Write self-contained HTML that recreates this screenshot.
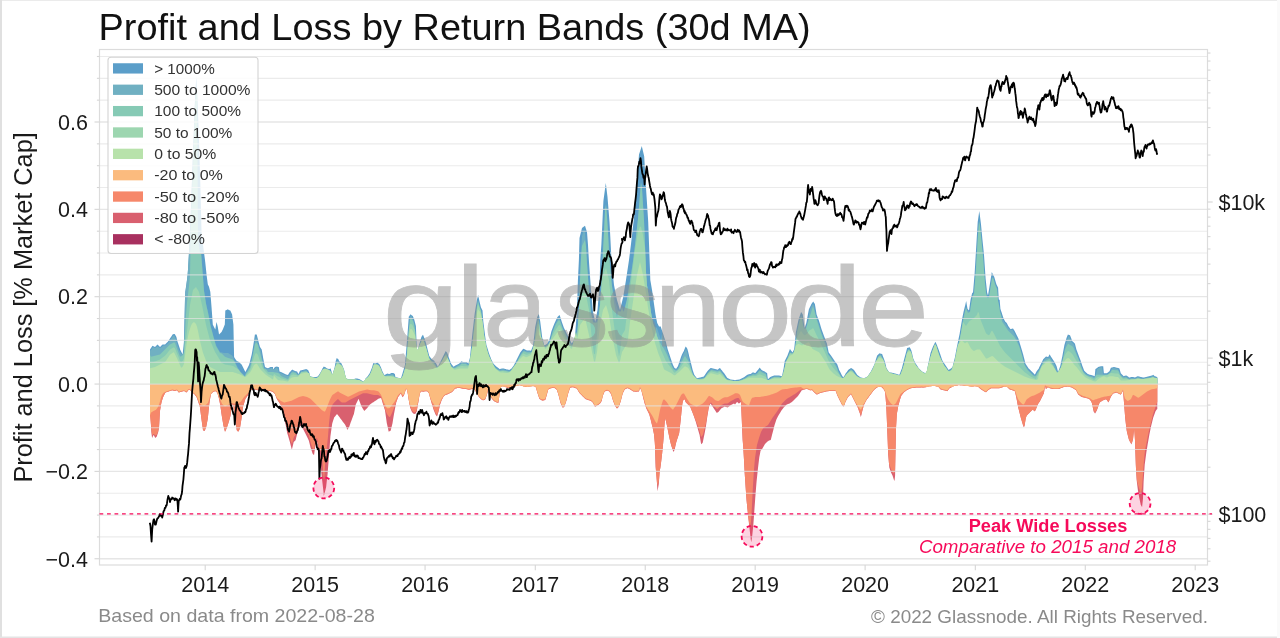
<!DOCTYPE html>
<html><head><meta charset="utf-8"><title>Profit and Loss by Return Bands (30d MA)</title>
<style>
html,body{margin:0;padding:0;background:#fff;}
svg{display:block;}
text{font-family:"Liberation Sans",Arial,sans-serif;}
.title{font-size:37.5px;fill:#111;}
.tk{font-size:21.5px;fill:#1a1a1a;}
.lg{font-size:13.8px;fill:#333;}
.wm{font-size:114px;fill:#8c8c8c;stroke:#8c8c8c;stroke-width:0.8px;}
.ann1{font-size:18px;font-weight:bold;fill:#f60a5a;}
.ann2{font-size:18px;font-style:italic;fill:#f60a5a;}
.yl{font-size:26px;fill:#1a1a1a;}
.ft{font-size:19px;fill:#8a8a8a;}
</style></head>
<body><svg width="1280" height="638" viewBox="0 0 1280 638">
<rect x="0" y="0" width="1280" height="638" fill="#ffffff"/>
<rect x="0" y="0" width="1280" height="1" fill="#ebebeb"/>
<rect x="0" y="0" width="2" height="638" fill="#e0e0e0"/>
<rect x="0" y="636.5" width="1280" height="1.5" fill="#e4e4e4"/>
<rect x="1277" y="0" width="3" height="638" fill="#fafafa"/>
<text x="98.6" y="40.3" class="title" textLength="712.1" lengthAdjust="spacingAndGlyphs">Profit and Loss by Return Bands (30d MA)</text>
<g><path d="M150 384.1L150 349.5L150 349.5L151 348L152 346.5L152.5 345.7L153 346L154 346.5L155 347L155 347L156 346L157 345L157.6 344.5L158 344.9L159 345.9L160 346.9L160.1 347L161 346.1L162 345.1L162.6 344.5L163 344.5L164 344.5L165 344.5L165.1 344.5L166 343.6L167 342.6L167.6 342L168 341.4L169 339.9L170 338.4L170.1 338.2L171 336.9L172 335.4L172.6 334.4L173 334.3L174 334.1L174.6 333.9L175 334.6L176 336.3L176.4 337L177 339.4L177.6 342L178 343.1L179 346.1L180 349.1L180.1 349.5L181 351.2L182 353.2L182.7 354.5L183 351L183.9 342L184 338.2L185 298.2L185.2 291.8L186 286.7L186.4 284.2L187 279.6L187.7 274.2L188 268.9L188.9 254.1L189 252L189.6 235L190 228.3L190.5 220L191 206.7L192 180L193 153.3L193.5 140L194 126.7L195 100L196 81.5L196.3 76L197 90L197.5 100L198 113.3L199 140L200 173.3L200.5 190L201 210.5L201.6 235L202 237.9L203 245.2L204 252.6L205 259.9L205.2 261.7L206 269.2L206.5 274.2L207 278.2L207.8 284.2L208 284.7L209 286.7L209 286.8L210 290.7L210.3 291.8L211 300.6L211.5 306.8L212 313.6L212.8 324.4L213 324.9L214 326.9L214 326.9L215 328.9L215.3 329.4L216 325.1L216.5 321.9L217 323.7L217.8 326.9L218 328.2L219 334.2L219 334.4L220 333.5L220.3 333.2L221 332.5L221.6 331.9L222 331L222.8 329.4L223 328.9L224 326.4L224.8 324.4L225 319.4L225.3 310.6L226 310.3L227 309.8L227.8 309.3L228 309.4L229 309.9L230 310.4L230.3 310.6L231 312L232 314.2L232.1 314.4L233 321.6L233.4 324.4L234 352.4L234.1 357L235 358.4L236 359.9L236.6 360.8L237 361L238 361.5L239 362L239.1 362.1L240 362.9L241 363.9L241.6 364.6L242 365.3L243 367.3L244 369.3L244.1 369.6L245 371.3L245.4 372.1L246 370.9L246.7 369.6L247 368.9L248 366.9L249 364.9L249.2 364.6L250 361.2L251 357.2L251.7 354.5L252 352.7L253 347L253.4 344.5L254 340.7L254.9 334.4L255 334.4L256 334.4L256.7 334.4L257 335.7L258 339.5L258 339.6L259 343.4L260 347L260 347L261 348.5L261.7 349.5L262 351.2L263 357L263 357.2L264 362.2L265 367.1L265 367.1L266 367.5L267 367.9L268 368.3L268 368.3L269 367.8L270 367.3L270.5 367.1L271 367.1L272 367.1L273 367.1L273 369.6L274 368.3L275 366.9L275 366.9L276 366.8L277 366.6L277 366.6L278 366.9L278.8 367.1L279 368.3L279.5 371.6L280 371.8L281 372.1L281 372.1L282 372.6L283 373.1L283 373.1L284 373.6L285 374.1L285 374.1L286 374.5L287 374.8L288 375.1L288 375.1L289 373.2L289 373.1L290 371.9L291 370.7L291.1 370.6L292 370L292.6 369.6L293 369.9L294 370.6L294.1 370.6L295 370.9L296 371.3L297 371.6L297.1 371.6L298 373.2L298.6 374.1L299 373.1L300 370.8L300.1 370.6L301 370.4L302 370.1L302.1 370.1L303 369.9L304 369.6L304.1 369.6L305 369.4L306 369.1L306.1 369.1L307 369.6L308 370.1L308.1 370.1L309 371.9L309.1 372.1L310 375.7L310.1 376.1L311 376.4L312 376.8L313 377.1L313.1 377.1L314 377.1L315 377.1L316 377.1L316.1 377.1L317 376.7L318 376.2L318.1 376.1L319 374.8L320 373.3L320.1 373.1L321 371.4L322 369.4L322.1 369.1L323 367.7L323.7 366.6L324 366.7L325 367.1L325.2 367.1L326 367.7L327 368.5L327.2 368.6L328 368.8L329 369.1L329.2 369.1L330 368.8L330.7 368.6L331 369.8L331.7 372.1L332 374.1L332.2 375.1L333 372.7L333.2 372.1L334 369.4L334.7 367.1L335 365.2L335.7 361.1L336 360.2L336.7 358.1L337 358.3L338 359L338.2 359.1L339 360.7L339.2 361.1L340 361.9L341 362.9L341.2 363.1L342 364.7L342.2 365.1L343 367.1L344 369.6L344.2 370.1L345 374.1L345.2 375.1L346 377.9L346.2 378.6L347 378.8L348 378.9L349 379.1L349.2 379.1L350 379.1L351 379.1L352 379.1L352.2 379.1L353 379L354 378.9L355 378.7L355.2 378.6L356 378.6L357 378.6L357.3 378.6L358 378.8L359 379.1L359.3 379.1L360 379.5L361 380L361.3 380.2L362 380.7L363 381.5L363.3 381.7L364 381.3L364.3 381.2L365 379.7L365.8 378.1L366 377.9L367 376.9L367.8 376.1L368 375.8L369 374.3L369.8 373.1L370 372.6L371 370.1L371.8 368.1L372 367.4L373 364.1L373.3 363.1L374 363.3L375 363.5L375.3 363.6L376 363.3L377 362.8L377.3 362.6L378 363.1L379 363.9L379.3 364.1L380 365.5L380.8 367.1L381 367.6L382 370.2L382.3 371.1L383 372.5L384 374.5L384.3 375.1L385 374.8L386 374.3L386.3 374.1L387 373.8L387.3 373.6L388 373.8L389 374L389.3 374.1L390 373.8L391 373.3L391.4 373.1L392 373.1L393 373.1L393.4 373.1L394 373.6L394.9 374.1L395 374.9L395.4 377.1L396 377.3L397 377.5L397.4 377.6L398 377.7L399 377.9L400 378L401 378.1L401 378.1L402 374.9L402.6 373.1L403 371.6L404 368.3L404.9 365.2L405 364.3L406 352.3L407 340.3L407.3 337L408 327.5L408.8 316.6L409 316.4L410 314.9L410.4 314.3L411 314.7L412 315.4L412.8 315.9L413 316.5L414 319L414.3 319.8L415 322.5L415.9 326.1L416 328.7L416.7 344.9L417 348.1L417.5 352.7L418 350L419 345L419 344.9L420 341.6L421 338.3L421.4 337L422 336.1L422.9 334.7L423 334.8L424 337.3L424.5 338.6L425 340.1L426 343.1L426.1 343.3L427 347L427.6 349.6L428 351L429 355L429.2 355.8L430 356.9L431 358.2L431.6 359L432 359.3L433 359.9L433.9 360.5L434 360.6L435 362L436 363.3L436.3 363.7L437 365.1L437.8 366.8L438 366.5L439 364.5L439.4 363.7L440 362.5L441 360.5L441.8 359L442 358.5L443 356.5L444 354.5L444.1 354.3L445 352.5L445.7 351.1L446 351.5L447 352.5L447.2 352.7L448 355L448.8 357.4L449 357.9L450 360.6L451 363.2L451.2 363.7L452 364.8L453 366.1L453.5 366.8L454 366.5L455 365.8L455.9 365.2L456 365.2L457 364.7L458 364.2L459 363.7L459 363.7L460 362.7L461 361.7L461.3 361.3L462 361.5L463 361.9L463.7 362.1L464 362.1L465 362.1L466 362.1L466.8 362.1L467 362.3L468 363.3L468.4 363.7L469 361.3L470 357.4L470 357.1L471 347.1L472 337.1L472.3 333.9L473 328L474 319.3L474.7 313.5L475 311.5L476 305.5L477 299.5L477 299.4L478 295.2L478.1 294.7L479 299.1L479.4 301L480 303.5L480.9 307.2L481 307.4L482 309.4L482.5 310.4L483 317.3L483.3 321.3L484 327L484.9 333.9L485 334.9L486 341.9L486.4 344.9L487 346.8L488 350.1L488.8 352.7L489 353.3L490 356L491 358.6L491.1 359L492 360.7L493 362.7L493.5 363.7L494 364.2L495 365.2L496 366.2L496.6 366.8L497 367.1L498 367.8L499 368.6L499.7 369.2L500 369.1L501 368.8L502 368.6L502.9 368.4L503 368.4L504 368.6L505 368.9L506 369.1L506 369.2L507 369.4L508 369.6L509 369.9L509.2 369.9L510 369.4L511 368.7L511.5 368.4L512 367.7L513 366.4L513.9 365.2L514 364.9L515 362.9L516 360.9L517 359L517 358.9L518 356.9L519 354.9L520 352.9L520.1 352.7L521 351.6L522 350.3L523 349.1L523.3 348.8L524 349.1L525 349.6L526 350.1L526.4 350.3L527 350.4L528 350.5L529 350.5L530 350.6L531 350.7L532 348.3L533 345.8L533.1 345.6L534 337.4L535 328.2L535.1 327.3L536 322.9L537 318.1L537.2 317.1L538 315.6L538.8 314L539 315L540 320.2L540.2 321.2L541 327.7L542 335.9L542.2 337.5L543 340.6L544 344.4L544.3 345.6L545 345.1L546 344.5L547 343.8L547.3 343.6L548 342.2L549 340.3L549.4 339.5L550 337L551 332.9L551.4 331.3L552 329.7L553 327.1L554 324.5L554.5 323.2L555 322.2L556 320.1L557 318.1L557.5 317.1L558 316.6L559 315.6L559.6 315L560 316.2L561 319.3L561.6 321.2L562 322.4L563 325.3L563.7 327.3L564 327.9L565 329.9L566 332L566.7 333.4L567 334L568 336L569 337.9L569.8 339.5L570 339.9L571 342L571.8 343.6L572 343.2L573 341.2L574 339.3L574.9 337.5L575 336.2L576 322.9L576.9 311L577 307.9L577.9 280.4L578 278.4L578.9 260L579 256.3L579.5 238L580 236L581 232L582 228L583 227.3L584 226.5L585 225.8L586 228.9L587 232L588 245L589 262L590 276L591 290L592 301L593 312L594 316.5L595 321.1L595.2 322L596 317.8L597 312.6L597.5 310L598 303.8L599 291.2L599.5 285L600 269.4L600.3 260L601 249.8L601.4 244L602 231.1L603 209.6L603.4 201L604 196.5L605 189L605.8 183L606 184.6L607 192.9L607.5 197L608 203.2L609 215.5L609.5 221.7L610 231.3L611 250.4L611.5 260L612 265L613 275L614 285L615 290L616 295L617 300L618 303.3L619 306.7L620 310L621 306L622 302L623 298L624 292L625 286L626 280L627 273.3L628 266.7L629 260L630 252L631 244L632 235.2L633 226.4L634 217.6L635 205.4L636 193.2L637 181L638 167.8L639 154.5L640 151.5L641 148.4L641.8 146L642 146.9L643 151.2L644 155.6L644.2 156.5L645 170.3L646 187.5L646.2 191L647 203.3L648 218.6L648.2 221.7L649 243.4L650 270.6L650.3 280L651 283.9L652 289.9L652.1 290.3L653 296.9L653.8 302.4L654 303.9L655 310.9L655.5 314.5L656 316.9L657 321.9L657.2 323.1L658 324.6L659 326.6L659 326.6L660 326.6L660.7 326.6L661 327.5L662 330.5L662.4 331.7L663 333.5L664 336.5L664.1 336.9L665 339.5L665.9 342.1L666 342.6L667 346.6L667.6 349L668 350.2L669 353.2L669.3 354.1L670 356.2L671 359.2L671 359.3L672 362.2L672.8 364.5L673 365L674 367L674.5 367.9L675 368.2L676 368.7L676.2 368.8L677 367.6L677.9 366.2L678 366L679 363L679.7 361L680 360L681 357L681.4 355.9L682 354.6L683 352.6L684 350.7L684 350.6L685 348.1L685.7 346.4L686 346.8L687 348.3L687.4 349L688 351.3L689 355.3L689.1 355.9L690 359.3L690.9 362.8L691 363.3L692 367.3L692.6 369.7L693 370.9L694 373.9L694.3 374.8L695 375.7L696 377.1L696.9 378.3L697 378.2L698 378L699 377.8L700 377.5L700.3 377.4L701 377.2L702 377L703 376.8L703.8 376.6L704 376.2L705 374.7L706 373.2L707 371.7L707.2 371.4L708 370.6L709 369.6L710 368.6L710.7 367.9L711 368L712 368.3L713 368.5L714 368.8L714.1 368.8L715 369L716 369.3L717 369.5L717.6 369.7L718 369.4L719 368.6L720 367.9L720.9 369.2L721 369.4L722 370.6L723 371.9L724 373.1L724 373.1L725 374.6L726 376.1L727 377.6L727.1 377.8L728 378.2L729 378.7L730 379.2L730.3 379.4L731 379.5L732 379.7L733 379.8L734 380L735 380.2L735 380.2L736 380L737 379.8L738 379.7L739 379.5L739.7 379.4L740 379.2L741 378.7L742 378.2L743 377.7L744 377.2L744.4 377L745 376.6L746 375.8L747 375.1L747.5 374.7L748 374.6L749 374.3L750 374.1L750.7 373.9L751 373.7L752 373L753 372.3L753 372.3L754 372.7L755 373L755.4 373.1L756 372.3L757 371.1L758 369.8L758.5 369.2L759 368.6L759.8 367.6L760 367.9L761 369.2L761.6 370L762 370.2L763 370.7L764 371.2L764.8 371.5L765 371.7L766 372.4L767 373L767.1 373.1L767.9 379.4L768 379.3L769 378.3L770 377.3L770.3 377L771 376.7L772 376.3L773 375.9L774 375.5L774.2 375.5L775 375.5L776 375.5L777 375.5L778 375.5L778.9 375.5L779 375.5L780 375.7L781 376L782 376.2L782 376.2L783 371.3L783.6 368.4L784 365.7L784.7 361L785 360.5L786 358.5L787 356.5L787.3 355.9L788 354L789 351.4L789.9 349L790 349.1L791 350.4L792 351.8L792.5 352.4L793 351.4L794 349.4L794.2 349L795 341L795.9 331.7L796 331.4L797 326.7L798 322.1L798.5 319.7L799 318.2L800 315.2L801 312.2L801.1 311.9L802 313.2L802.8 314.5L803 315.9L804 323.9L804.6 328.3L805 326.9L806 323.9L806.3 323.1L807 319.2L808 313.9L808.9 309.3L809 309L810 307L811 305L811.4 304.1L812 303.3L813 301.8L813.2 301.6L814 302.8L814.9 304.1L815 304.8L816 310.8L816.6 314.5L817 315.5L818 318.2L819 320.8L819.2 321.4L820 324L821 327.4L821.8 330L822 330.6L823 333.2L824 335.9L824.4 336.9L825 338.6L826 341.2L827 343.8L827 344L828 349L828.7 352.4L829 352.8L830 354.2L831 355.5L831.3 355.9L832 356.9L833 358.4L834 359.9L834.7 361L835 361.4L836 362.7L837 364.1L837.3 364.5L838 366.6L839 369.6L839 369.7L840 371.6L841 373.6L841.6 374.8L842 375.4L843 376.9L843.3 377.4L844 376.3L845 374.7L845.9 373.1L846 373L847 371.7L848 370.3L848.5 369.7L849 369.3L850 368.7L851 368L851.1 367.9L852 368.5L853 369.2L853.7 369.7L854 370.1L855 371.6L856 373.1L857 374.6L857.1 374.8L858 375.5L859 376.2L860 377L860.6 377.4L861 377.5L862 377.8L863 378L864 378.3L864 378.3L865 377.8L866 377.3L867 376.8L867.5 376.6L868 375.8L869 374.3L870 372.8L870.9 371.4L871 371.2L872 369.2L873 367.2L874 365.2L874.4 364.5L875 362.4L876 359.1L877 355.9L877 355.8L878 354.8L879 353.8L879.6 353.3L880 353.4L881 353.8L882 354.1L882.1 354.1L883 356.4L884 359.1L884.7 361L885 362.1L886 366.1L886.4 367.9L887 368.9L888 370.5L889 372.2L889 372.2L890 372.4L891 372.6L892 372.8L893 373L893.3 373.1L894 373.3L895 373.5L896 373.8L896.8 374L897 374L898 374.4L899 374.7L899.4 374.8L900 373.2L901 370.5L902 367.9L902 367.8L903 363.8L904 359.8L904.6 357.6L905 355.9L906 352.3L907 348.6L907.1 348.1L908 347.8L909 347.5L909.7 347.2L910 347.8L911 349.8L911.4 350.7L912 353.1L913 357.5L913.4 359L914 360.3L915 362.3L915.7 363.7L916 364.1L917 365.6L918 367.1L918.8 368.4L919 368.6L920 369.6L921 370.6L922 371.5L922 371.6L923 372.1L924 372.6L925 373.1L925.1 373.1L926 372.7L926.7 372.3L927 370.6L928 365.1L928.2 363.7L929 360.2L930 355.5L930.6 352.7L931 351.7L932 349L933 346.5L933 346.4L934 344.4L935 342.4L935.3 341.7L936 343.1L936.9 344.9L937 345.2L938 347.9L939 350.6L939.2 351.2L940 353.5L941 356.5L942 359.5L942.4 360.6L943 361.5L944 363L945 364.5L945.5 365.3L946 366L947 367.5L948 369L948.6 370L949 369.7L950 369.1L951 368.4L951 368.4L952 367.4L952.6 366.8L953 365.1L954 361.1L954.9 357.4L955 356.9L956 351.6L957 346.3L957.3 344.9L958 341.4L959 336.8L959.6 333.9L960 331.6L961 325.6L962 319.8L962 319.6L963 314.6L963.5 312L964 310.1L965 306.1L965.1 305.7L966 301.8L966.2 301L967 306L967.5 308.8L968 309.4L969 310.4L969 310.4L970 303.5L970.6 299.4L971 297.8L972 293.8L972.2 293.1L973 292.5L974 280.8L974.6 273.7L975 267L976 250.3L976.2 247L977 233.7L977.7 222L978 219.9L979 213.1L979.3 211L980 216.5L980.9 223.5L981 224.5L982 235L982.4 239.2L983 245.1L984 254.9L985 269.6L985.6 278.4L986 282.2L987 291.6L987.1 292.5L988 295.6L989 289.5L990 283.3L990.3 281.5L991 277.1L991.8 272.1L992 272.5L993 274.5L994 276.4L994.2 276.8L995 279.5L996 282.9L996.5 284.6L997 285.6L998 287.6L998.1 287.8L998.8 299.4L999 299.5L999.7 300L1000 303.9L1000.4 308.8L1001 310.7L1002 313.5L1002 313.7L1003 316.7L1003.5 318.2L1004 319.2L1005 321.2L1005.1 321.4L1006 322.3L1006.7 322.9L1007 323.6L1008 325.6L1008.2 326.1L1009 327.1L1010 328.4L1010.6 329.2L1011 329.1L1012 328.7L1012.9 328.4L1013 328.5L1014 330L1014.5 330.8L1015 331.8L1016 333.8L1016.1 333.9L1017 335.8L1018 337.8L1018.4 338.6L1019 340.6L1020 343.9L1020.8 346.5L1021 347.2L1022 350.6L1023 353.9L1023.1 354.3L1024 357.8L1025 361.8L1025.5 363.7L1026 364.5L1027 366L1028 367.5L1028.6 368.4L1029 368.8L1030 369.8L1031 370.8L1031.7 371.5L1032 371.8L1033 372.8L1034 373.8L1034.9 374.7L1035 374.4L1036 372.4L1036.5 371.5L1037 370.8L1038 369.5L1038.8 368.4L1039 367.7L1040 365.7L1041 363.7L1041.1 363.5L1042 361.7L1043 359.7L1043.2 359.2L1044 358.5L1045 357.5L1046 356.5L1046.1 356.4L1047 356.7L1048 357.1L1048.2 357.1L1049 355.5L1049.6 354.3L1050 355L1051 356.7L1051.7 357.8L1052 358.3L1053 359.8L1054 361.3L1054.5 362.1L1055 363L1056 365L1056.6 366.3L1057 367.8L1058 371.8L1058 371.9L1059 369.4L1060 366.7L1060.2 366.3L1061 362.4L1062 357.7L1062.3 356.4L1063 352.5L1064 347.2L1064.4 345.1L1065 343.1L1066 339.8L1066.5 338.1L1067 336.8L1067.9 334.6L1068 334.6L1069 334.9L1070 335.3L1070 335.3L1071 337.8L1072 340.5L1072.1 340.9L1073 341.8L1073.6 342.3L1074 342.8L1075 343.7L1075 343.9L1076 347.9L1076.4 349.4L1077 351L1078 353.7L1078.5 355L1079 356.4L1080 359L1080.6 360.6L1081 361.8L1082 364.8L1082 364.9L1083 367.5L1084 370.2L1084.1 370.5L1085 371.4L1086 372.4L1087 373.3L1087 373.4L1088 373.9L1089 374.4L1089.8 374.8L1090 374.8L1091 375.1L1092 375.3L1092.6 375.5L1093 375.6L1094 375.9L1094.7 376.2L1095 373.3L1095.4 369.1L1096 368.7L1097 367.9L1098 367.2L1098.2 367L1099 366.8L1100 366.6L1101 366.3L1101.1 366.3L1102 366.3L1103 366.3L1103.2 366.3L1103.9 373.3L1104 373.3L1105 373.3L1106 373.3L1106.7 373.3L1107 373.1L1108 372.4L1109 371.6L1109.5 371.2L1110 370L1110.9 367.7L1111 367.7L1112 367.4L1113 367.2L1113.8 367L1114 367.1L1115 367.3L1116 367.6L1116.6 367.7L1117 367.8L1118 368.1L1119 368.3L1119.4 368.4L1120 370.5L1120.8 373.3L1121 373.5L1122 374.5L1123 375.5L1123.6 376.2L1124 376.1L1125 375.8L1126 375.6L1126.4 375.5L1127 375.9L1128 376.6L1129 377.4L1129.3 377.6L1130 377.4L1131 377.1L1132 376.9L1132.1 376.9L1133 377.1L1134 377.3L1134.9 377.6L1135 377.5L1136 377L1137 376.5L1137.7 376.2L1138 376.2L1139 376.5L1140 376.7L1140.6 376.9L1141 377L1142 377.2L1143 377.5L1143.4 377.6L1144 377.4L1145 377.2L1146 376.9L1146.2 376.9L1147 376.7L1148 376.4L1149 376.2L1149 376.2L1150 375.9L1151 375.7L1151.8 375.5L1152 375.4L1153 374.9L1153.2 374.8L1154 375.5L1154.7 376.2L1155 376.3L1156 376.6L1156.8 376.9L1157.3 376.9L1157.3 384.1Z" fill="#5b9ec9"/><path d="M150 384.1L150 350.5L151 350.1L152 348.6L153 347.1L154 347.6L155 348L156 347.6L157 346.6L158 346.5L159 347.5L160 347.9L161 347.5L162 346.7L163 345.7L164 345.5L165 345.5L166 345.1L167 344.2L168 343.2L169 342L170 340.5L171 339L172 337.5L173 336L174 335.2L175 336.9L176 340L177 343.7L178 346.7L179 349.7L180 351.8L181 353.8L182 354.2L183 353.8L184 351.6L185 299.2L186 287.7L187 280.6L188 269.9L189 253L190 229.3L191 207.7L192 181L193 154.3L194 127.7L195 101L196 82.5L197 91L198 238.5L199 245.8L200 253.2L201 251.2L202 263.8L203 276.7L204 290L205 296.5L206 303L207 307.4L208 311.8L209 316.8L210 322.2L211 326.9L212 330.6L213 334.4L214 337.9L215 341.5L216 345L217 346.8L218 348.5L219 350.2L220 352L221 352.2L222 352.5L223 352.8L224 353L225 353L226 353L227 353L228 353L229 353.5L230 354.2L231 354.8L232 355.5L233 356.8L234 359.4L235 362L236 364L237 366L238 368L239 369.3L240 370.7L241 372L242 373L243 374L244 375L245 376L246 371.9L247 371.5L248 369.5L249 367.5L250 365.5L251 361.8L252 357.8L253 353.3L254 347.6L255 341.3L256 336.3L257 340.2L258 344L259 347.6L260 349.1L261 351.8L262 357.8L263 362.8L264 367.7L265 368.1L266 368.5L267 368.9L268 369.3L269 368.9L270 368.4L271 368.1L272 368.1L273 368.9L274 369.3L275 368.9L276 367.8L277 367.6L278 368.9L279 372.4L280 372.8L281 373.2L282 373.7L283 374.2L284 374.7L285 375.1L286 375.5L287 375.8L288 376.1L289 375.7L290 373.8L291 372.5L292 371.3L293 371.2L294 371.6L295 371.9L296 372.3L297 373.8L298 374.2L299 374.1L300 373.7L301 371.4L302 371.1L303 370.9L304 370.6L305 370.4L306 370.2L307 370.7L308 372.5L309 376.3L310 377L311 377.4L312 377.8L313 378.1L314 378.1L315 378.1L316 378.1L317 377.7L318 377.3L319 376.8L320 375.4L321 373.9L322 372L323 370L324 368.3L325 368.3L326 369.1L327 369.5L328 369.8L329 370.1L330 370.4L331 374.7L332 375.1L333 374.7L334 373.3L335 370L336 365.8L337 360.8L338 361.3L339 362.5L340 363.5L341 365.3L342 367.7L343 370.2L344 374.7L345 378.5L346 379.4L347 379.8L348 379.9L349 380.1L350 380.1L351 380.1L352 380.1L353 380L354 379.9L355 379.7L356 379.6L357 379.6L358 379.8L359 380.1L360 380.6L361 381.3L362 382.1L363 382.5L364 382.3L365 381.9L366 380.3L367 378.5L368 377.5L369 376.4L370 374.9L371 373.2L372 370.7L373 368L374 364.7L375 364.5L376 364.3L377 363.9L378 364.5L379 366.1L380 368.2L381 370.8L382 373.1L383 375.1L384 375.5L385 375.8L386 375.4L387 374.9L388 374.8L389 375L390 374.8L391 374.4L392 374.1L393 374.2L394 375.5L395 377.9L396 378.3L397 378.5L398 378.7L399 378.9L400 379L401 379.1L402 378.7L403 375.5L404 372.2L405 368.9L406 364.9L407 352.9L408 340.9L409 328.1L410 317L411 316L412 317.1L413 319.6L414 323.1L415 329.3L416 348.7L417 350.6L418 351L419 350.6L420 345.6L421 342.2L422 338.9L423 337.9L424 340.7L425 343.7L426 347.6L427 351.6L428 355.6L429 357.5L430 358.8L431 359.9L432 360.5L433 361.2L434 362.6L435 363.9L436 365.7L437 367.1L438 367.5L439 367.1L440 365.1L441 363.1L442 361.1L443 359.1L444 357.1L445 355.1L446 353.1L447 355.6L448 358.5L449 361.2L450 363.8L451 365.4L452 366.7L453 367.1L454 367.5L455 367.1L456 366.4L457 365.8L458 365.3L459 364.8L460 364.3L461 363.3L462 362.5L463 362.9L464 363.1L465 363.1L466 363.1L467 363.9L468 364.3L469 363.9L470 361.9L471 357.7L472 347.7L473 337.7L474 328.6L475 319.9L476 312.1L477 306.1L478 300.1L479 304.1L480 308L481 310L482 317.9L483 327.6L484 335.5L485 342.5L486 347.4L487 350.7L488 353.9L489 356.6L490 359.2L491 361.3L492 363.3L493 364.8L494 365.8L495 366.8L496 367.7L497 368.4L498 369.2L499 369.7L500 370.1L501 369.8L502 369.6L503 369.4L504 369.6L505 369.9L506 370.1L507 370.4L508 370.6L509 370.9L510 370.5L511 370L512 369.3L513 368.3L514 367L515 365.5L516 363.5L517 361.5L518 359.5L519 357.5L520 355.5L521 353.5L522 352.2L523 350.9L524 350.2L525 350.7L526 351.1L527 351.4L528 351.5L529 351.5L530 351.6L531 351.7L532 351.3L533 348.9L534 346.4L535 338L536 328.8L537 323.5L538 318.7L539 320.8L540 328.3L541 336.5L542 341.2L543 345L544 345.7L545 346.1L546 345.7L547 345.1L548 344.4L549 342.8L550 340.9L551 337.6L552 333.5L553 330.3L554 327.7L555 325.1L556 322.8L557 320.8L558 318.7L559 317.2L560 319.9L561 323L562 325.9L563 328.5L564 330.5L565 332.6L566 334.6L567 336.6L568 338.5L569 340.5L570 342.6L571 343.8L572 344.2L573 343.8L574 343.8L575 341.8L576 339.9L577 336.8L578 323.5L579 308.5L580 279L581 256.9L582 236.6L583 232.6L584 229.5L585 232.6L586 245.6L587 262.6L588 276.6L589 290.6L590 301.6L591 312.6L592 317.1L593 321.7L594 321.7L595 322.1L596 321.7L597 321.7L598 318.4L599 313.2L600 304.4L601 291.9L602 270L603 250.4L604 231.7L605 210.2L606 203.8L607 216.1L608 231.9L609 251L610 265.6L611 275.6L612 285.6L613 290.6L614 295.6L615 300.6L616 303.9L617 307.3L618 310.6L619 310.6L620 311L621 310.6L622 306.6L623 310.6L624 310.6L625 306.6L626 302.6L627 298.6L628 292.6L629 286.6L630 280.6L631 273.9L632 267.3L633 260.6L634 252.6L635 244.6L636 235.8L637 227L638 218.2L639 206L640 193.8L641 181.6L642 188.1L643 203.9L644 219.2L645 244L646 271.2L647 284.5L648 290.5L649 297.5L650 304.5L651 311.5L652 317.5L653 322.5L654 325.2L655 327.2L656 327.2L657 328.1L658 331.1L659 334.1L660 337.1L661 340.1L662 334.1L663 337.1L664 340.1L665 343.2L666 347.2L667 350.8L668 353.8L669 356.8L670 359.8L671 362.8L672 365.6L673 367.6L674 368.8L675 369.3L676 369.7L677 369.3L678 368.2L679 366.6L680 363.6L681 360.6L682 357.6L683 355.2L684 353.2L685 351.2L686 348.9L687 351.9L688 355.9L689 359.9L690 363.9L691 367.9L692 371.5L693 374.5L694 376.3L695 377.7L696 378.9L697 379.2L698 379L699 378.8L700 378.5L701 378.2L702 378L703 377.8L704 377.4L705 376.8L706 375.3L707 373.8L708 372.3L709 371.2L710 370.2L711 369.2L712 369.3L713 369.5L714 369.8L715 370L716 370.3L717 370.5L718 370.4L719 370L720 370L721 371.2L722 372.5L723 373.7L724 375.2L725 376.7L726 378.2L727 378.8L728 379.3L729 379.8L730 380.2L731 380.5L732 380.7L733 380.8L734 381L735 381.2L736 381L737 380.8L738 380.7L739 380.5L740 380.2L741 379.8L742 379.3L743 378.8L744 378.3L745 377.8L746 377.2L747 376.4L748 375.7L749 375.3L750 375.1L751 374.7L752 374.3L753 373.6L754 373.7L755 374L756 373.6L757 372.9L758 371.7L759 370.4L760 369.8L761 370.8L762 371.3L763 371.8L764 372.3L765 373L766 373.6L767 379.9L768 380.3L769 379.9L770 378.9L771 377.9L772 377.3L773 376.9L774 376.5L775 376.5L776 376.5L777 376.5L778 376.5L779 376.5L780 376.7L781 377L782 377.2L783 376.8L784 371.9L785 366.3L786 361.1L787 359.1L788 357.1L789 354.6L790 352L791 352.4L792 352.8L793 352.4L794 352L795 350L796 341.6L797 332L798 327.3L799 322.7L800 318.8L801 315.8L802 316.5L803 324.5L804 327.5L805 327.9L806 327.5L807 324.5L808 319.8L809 314.5L810 309.6L811 307.6L812 305.6L813 303.9L814 305.4L815 311.4L816 316.1L817 318.8L818 321.4L819 324.6L820 328L821 331.2L822 333.8L823 336.5L824 339.2L825 341.8L826 344.6L827 349.6L828 353.4L829 354.8L830 356.1L831 357.5L832 359L833 360.5L834 362L835 363.3L836 364.7L837 367.2L838 370.2L839 372.2L840 374.2L841 376L842 377.5L843 377.9L844 377.5L845 376.9L846 375.3L847 373.6L848 372.3L849 370.9L850 369.9L851 369.3L852 369.8L853 370.7L854 372.2L855 373.7L856 375.2L857 376.1L858 376.8L859 377.6L860 378.1L861 378.5L862 378.8L863 379L864 379.3L865 378.9L866 378.4L867 377.9L868 377.4L869 376.4L870 374.9L871 373.4L872 371.8L873 369.8L874 367.8L875 365.8L876 363L877 359.7L878 356.4L879 355.4L880 354.4L881 354.8L882 357L883 359.7L884 362.7L885 366.7L886 369.5L887 371.1L888 372.8L889 373.2L890 373.4L891 373.6L892 373.8L893 374L894 374.3L895 374.5L896 374.8L897 375L898 375.4L899 375.7L900 375.3L901 373.8L902 371.1L903 368.4L904 364.4L905 360.4L906 356.5L907 352.9L908 349.2L909 348.5L910 350.4L911 353.7L912 358.1L913 360.9L914 362.9L915 364.7L916 366.2L917 367.7L918 369.2L919 370.2L920 371.2L921 372.2L922 372.7L923 373.2L924 373.7L925 374.1L926 373.7L927 373.3L928 371.2L929 365.7L930 360.8L931 356.1L932 352.3L933 349.6L934 347L935 345L936 345.8L937 348.5L938 351.2L939 354.1L940 357.1L941 360.1L942 362.1L943 363.6L944 365.1L945 366.6L946 368.1L947 369.6L948 370.3L949 370.7L950 370.3L951 369.7L952 369L953 368L954 365.7L955 361.7L956 357.5L957 352.2L958 346.9L959 342L960 337.4L961 332.2L962 326.2L963 320.2L964 315.2L965 310.7L966 306.7L967 310L968 311L969 311.4L970 311L971 304.1L972 298.4L973 294.4L974 293.1L975 281.4L976 267.6L977 250.9L978 234.3L979 220.5L980 225.1L981 235.6L982 245.7L983 255.5L984 270.2L985 282.8L986 292.2L987 296.2L988 296.6L989 296.2L990 290.1L991 283.9L992 277.7L993 277L994 280.1L995 283.5L996 286.2L997 288.2L998 300.1L999 304.5L1000 311.3L1001 314.3L1002 317.3L1003 319.8L1004 321.8L1005 322.9L1006 324.2L1007 326.2L1008 327.7L1009 329L1010 329.7L1011 330.1L1012 329.7L1013 330.6L1014 332.4L1015 334.4L1016 336.4L1017 338.4L1018 341.2L1019 344.5L1020 347.8L1021 351.2L1022 354.5L1023 358.4L1024 362.4L1025 365.1L1026 366.6L1027 368.1L1028 369.4L1029 370.4L1030 371.4L1031 372.4L1032 373.4L1033 374.4L1034 375L1035 375.4L1036 375L1037 373L1038 371.4L1039 370.1L1040 368.3L1041 366.3L1042 364.3L1043 362.3L1044 360.3L1045 359.1L1046 358.1L1047 357.7L1048 358.1L1049 357.7L1050 357.3L1051 358.9L1052 360.4L1053 361.9L1054 363.6L1055 365.6L1056 368.4L1057 372.4L1058 372.8L1059 372.4L1060 370L1061 367.3L1062 363L1063 358.3L1064 353.1L1065 347.8L1066 343.7L1067 340.4L1068 337.4L1069 335.9L1070 338.4L1071 341.1L1072 342.4L1073 343.4L1074 344.5L1075 348.5L1076 351.6L1077 354.3L1078 357L1079 359.6L1080 362.4L1081 365.4L1082 368.1L1083 370.8L1084 372L1085 373L1086 374L1087 374.5L1088 375L1089 375.4L1090 375.8L1091 376.1L1092 376.3L1093 376.6L1094 376.9L1095 376.5L1096 373.9L1097 369.3L1098 368.5L1099 367.8L1100 367.6L1101 367.3L1102 367.3L1103 373.9L1104 374.3L1105 374.3L1106 374.3L1107 374.1L1108 373.7L1109 373L1110 372.2L1111 370.6L1112 368.4L1113 368.2L1114 368.1L1115 368.3L1116 368.6L1117 368.8L1118 369.1L1119 371.1L1120 374.1L1121 375.1L1122 376.1L1123 376.7L1124 377.1L1125 376.8L1126 376.6L1127 377.2L1128 378L1129 378.4L1130 378.4L1131 378.1L1132 377.9L1133 378.1L1134 378.3L1135 378.5L1136 378.1L1137 377.6L1138 377.2L1139 377.5L1140 377.7L1141 378L1142 378.2L1143 378.5L1144 378.4L1145 378.2L1146 377.9L1147 377.7L1148 377.4L1149 377.2L1150 376.9L1151 376.7L1152 376.4L1153 376.1L1154 376.9L1155 377.3L1156 377.6L1157.3 377.9L1157.3 384.1Z" fill="#70b0c2"/><path d="M150 384.1L150 355.1L151 356.8L152 356.5L153 356.3L154 356L155 355.8L156 355.5L157 355.3L158 355L159 354.8L160 354.5L161 353.6L162 352.6L163 351.6L164 350.6L165 349.6L166 348.6L167 347.6L168 346.6L169 345.6L170 344.6L171 344L172 343.4L173 342.9L174 342.3L175 343L176 345.7L177 348.5L178 351.2L179 353.9L180 356.6L181 356.5L182 355.8L183 355.1L184 352.7L185 333.7L186 314.7L187 302.2L188 294.2L189 286L190 276L191 222.5L192 196.7L193 170L194 143.3L195 118.3L196 95L197 93.6L198 239.5L199 246.8L200 254.2L201 252.2L202 264.8L203 277.7L204 291L205 297.5L206 304L207 308.4L208 312.8L209 317.8L210 323.2L211 327.9L212 331.6L213 335.4L214 338.9L215 342.5L216 346L217 347.8L218 349.5L219 351.2L220 353L221 353.2L222 353.7L223 354.7L224 355.7L225 356.7L226 357.3L227 357.6L228 357.9L229 358.3L230 358.6L231 358.9L232 359.3L233 359.7L234 360.7L235 363L236 365L237 367L238 369L239 370.3L240 371.7L241 373L242 374L243 375L244 376L245 376.9L246 373.7L247 372.5L248 370.7L249 369.2L250 367.7L251 364.2L252 359.2L253 354.3L254 349.2L255 344.2L256 342.5L257 343.5L258 345L259 348.7L260 352.7L261 356.7L262 360.7L263 364.6L264 368.7L265 369.1L266 369.5L267 370.6L268 372.1L269 372.1L270 372.1L271 372.1L272 372.1L273 372.1L274 372.3L275 372.4L276 372.6L277 372.8L278 373L279 373.4L280 374.6L281 376.1L282 376.6L283 377L284 377.4L285 377.8L286 378.3L287 378.7L288 379.1L289 377.2L290 375.2L291 373.5L292 372.4L293 372.2L294 372.6L295 372.9L296 373.3L297 374.8L298 375.2L299 375.1L300 374.3L301 372.4L302 372.1L303 371.9L304 371.6L305 371.4L306 371.2L307 371.7L308 372.9L309 373.1L310 376.3L311 376.9L312 377.3L313 377.6L314 377.8L315 377.9L316 378L317 378.1L318 377.3L319 376.3L320 374.4L321 372.4L322 370.8L323 369.3L324 368.9L325 368.7L326 368.9L327 369.3L328 369.7L329 370.1L330 371L331 372L332 375L333 373.4L334 370.6L335 367.9L336 365.1L337 361.8L338 362.3L339 363.5L340 364.5L341 365.2L342 366L343 368.1L344 370.6L345 375.1L346 377.9L347 379.3L348 379.6L349 379.6L350 379.6L351 379.6L352 379.6L353 379.6L354 379.6L355 379.6L356 379.7L357 379.9L358 380L359 380.1L360 380.5L361 381L362 381.5L363 382L364 381.3L365 379.7L366 378.7L367 378L368 377.3L369 376.1L370 374.6L371 372.4L372 369.9L373 367L374 364.6L375 364.6L376 364.6L377 364.8L378 365L379 366.1L380 367.6L381 369.8L382 372.3L383 374.1L384 375.6L385 376.2L386 376.4L387 375.9L388 375.8L389 376L390 375.8L391 375.6L392 375.6L393 375.6L394 376.5L395 377.6L396 377.8L397 377.9L398 378.1L399 378.3L400 378.5L401 378.6L402 377.6L403 375.6L404 372.3L405 369.1L406 364L407 353.9L408 341.9L409 329.1L410 319.2L411 319L412 319.5L413 320.9L414 324.1L415 330.3L416 343.5L417 349.2L418 350L419 346.5L420 344.5L421 342.5L422 339.9L423 338.9L424 341.7L425 344.7L426 347.8L427 351.2L428 354.7L429 358.2L430 359.8L431 360.9L432 361.5L433 362.2L434 363.6L435 364.9L436 366.7L437 368.1L438 367.1L439 365.8L440 364.4L441 363.1L442 361.6L443 359.6L444 357.6L445 355.9L446 354.1L447 356.6L448 358.9L449 361.4L450 363.9L451 366.4L452 367.6L453 368.1L454 368.5L455 368.1L456 367.4L457 366.8L458 366.3L459 365.8L460 365.3L461 364.3L462 363.6L463 363.9L464 364.1L465 364.1L466 364.1L467 364.9L468 365.3L469 364.9L470 359.8L471 354.2L472 347.5L473 338.7L474 329.6L475 320.9L476 313.1L477 307.1L478 301.1L479 305.1L480 309L481 311L482 318.9L483 325.8L484 334.8L485 340.4L486 345.7L487 349.9L488 353.2L489 356.3L490 358.3L491 360.3L492 362.3L493 364.3L494 366.3L495 367.8L496 368.7L497 369.4L498 370.2L499 370.7L500 371.1L501 370.8L502 370.6L503 370.4L504 370.6L505 370.9L506 371.1L507 371.4L508 371.6L509 371.9L510 371.5L511 371L512 369.6L513 368.1L514 366.6L515 365.3L516 363.9L517 362.5L518 360.5L519 358.5L520 356.5L521 354.5L522 353.2L523 351.9L524 351.3L525 351.8L526 352.3L527 352.4L528 352.5L529 352.5L530 352.6L531 352.7L532 351.7L533 348.4L534 345.1L535 339L536 329.8L537 324.5L538 319.7L539 321.8L540 329.3L541 336.8L542 339.9L543 342.9L544 345.8L545 347.1L546 346.7L547 346.1L548 345.4L549 343.8L550 341.9L551 338.6L552 334.5L553 331.3L554 328.7L555 326.2L556 324.3L557 322.5L558 321.1L559 320L560 320.9L561 324L562 326.9L563 329.5L564 331.5L565 333.6L566 335.6L567 337.6L568 339.5L569 341.5L570 343.6L571 344.8L572 345.2L573 344.3L574 339.8L575 336.2L576 332.1L577 337.8L578 324.5L579 309.5L580 280L581 257.9L582 246L583 244L584 242L585 240L586 246.6L587 263.6L588 277.6L589 291.6L590 302.6L591 313.6L592 318.1L593 322.7L594 322.7L595 323.1L596 322.7L597 322.7L598 319.4L599 314.2L600 305.4L601 292.9L602 271L603 251.4L604 232.7L605 211.2L606 204.8L607 217.1L608 232.9L609 252L610 266.6L611 276.6L612 286.6L613 294.5L614 303L615 308L616 313L617 317.3L618 311.6L619 311.6L620 312L621 311.6L622 307.6L623 311.6L624 311.6L625 307.6L626 303.6L627 299.6L628 293.6L629 287.6L630 281.6L631 274.9L632 268.3L633 261.6L634 253.6L635 245.6L636 236.8L637 228L638 219.2L639 207L640 194.8L641 182.6L642 189.1L643 204.9L644 220.2L645 245L646 272.2L647 285.5L648 291.5L649 298.5L650 305.5L651 312.5L652 318.5L653 323.5L654 326.2L655 328.2L656 331.9L657 335.9L658 338.4L659 340.4L660 342.4L661 344.3L662 345.8L663 347.3L664 348.8L665 350.7L666 352.7L667 354.7L668 356.9L669 359.4L670 361.9L671 364.4L672 366.6L673 368.6L674 369.8L675 370.3L676 370.7L677 370.3L678 369.2L679 367.6L680 365.5L681 363.5L682 361.5L683 359.5L684 357.5L685 356.1L686 357.6L687 359.1L688 360.6L689 362.8L690 365.3L691 368.9L692 372.5L693 375.2L694 376.2L695 377.2L696 378.2L697 379.2L698 379.3L699 379.5L700 379.5L701 379.2L702 379L703 378.8L704 378.4L705 377.8L706 376.3L707 374.8L708 373.3L709 372.2L710 371.2L711 370.2L712 370.3L713 370.5L714 370.8L715 371L716 371.3L717 371.5L718 371.4L719 371L720 371L721 372.2L722 373.5L723 374.7L724 376.2L725 377.7L726 379.2L727 379.8L728 380.3L729 380.4L730 380.5L731 380.7L732 380.8L733 380.9L734 381L735 381L736 381L737 381L738 381L739 381L740 380.8L741 380.5L742 380.2L743 379.8L744 379.3L745 378.8L746 378.2L747 377.4L748 376.7L749 376.3L750 376.1L751 375.7L752 375.3L753 374.6L754 374.7L755 375L756 374.6L757 373.9L758 372.7L759 371.4L760 370.9L761 371.8L762 372.5L763 373L764 373.4L765 374L766 374.6L767 379.8L768 380.1L769 379.9L770 379.6L771 378.9L772 378.3L773 377.9L774 377.5L775 377.5L776 377.5L777 377.5L778 377.5L779 377.5L780 377.7L781 377.9L782 376.5L783 374.7L784 370.7L785 366.8L786 362.1L787 360.1L788 358.1L789 355.6L790 353L791 353.4L792 353.8L793 353.4L794 352L795 348.6L796 342.6L797 333L798 328.3L799 323.9L800 320.3L801 316.8L802 319.2L803 325.5L804 328.5L805 328.9L806 328.5L807 325.5L808 322.1L809 319L810 315.8L811 312.7L812 309.5L813 306.4L814 309.2L815 313.2L816 317.2L817 320.8L818 323.8L819 326.8L820 329.8L821 332.8L822 335.8L823 338.6L824 341.4L825 344.2L826 347L827 350.6L828 354.4L829 355.8L830 357.1L831 358.5L832 360L833 361.6L834 363.3L835 364.9L836 366.6L837 368.3L838 371.2L839 373.2L840 375.2L841 377L842 377.9L843 378.2L844 377.5L845 376.2L846 375L847 373.8L848 373.1L849 371.9L850 370.9L851 370.3L852 370.8L853 371.7L854 373.2L855 374.4L856 375.4L857 376.4L858 377L859 377.5L860 378L861 378.3L862 378.3L863 378.3L864 378.3L865 378.3L866 378L867 377L868 376L869 375L870 373.6L871 372.1L872 370.6L873 368.8L874 366.3L875 363.8L876 361.3L877 360.1L878 357.4L879 356.4L880 355.4L881 355.8L882 358L883 359.3L884 362.3L885 365.3L886 368.3L887 370.2L888 371.2L889 372.2L890 373.1L891 373.4L892 373.6L893 373.9L894 374.1L895 374.4L896 374.6L897 374.9L898 375.1L899 375.4L900 375.6L901 373.6L902 370.9L903 368.1L904 365L905 361L906 357L907 353L908 350.2L909 349.5L910 351L911 352.2L912 355.7L913 359.3L914 361.9L915 363.9L916 365.6L917 366.8L918 367.9L919 369.1L920 370.3L921 371.2L922 371.8L923 372.5L924 373.2L925 373.8L926 372.7L927 370.6L928 366L929 362.6L930 359.1L931 355.6L932 352.6L933 349.8L934 347L935 344.2L936 345.5L937 348.7L938 351.9L939 355.1L940 357.4L941 359.4L942 361.4L943 363.4L944 365.4L945 366.7L946 368L947 369.4L948 370.7L949 371.4L950 370.9L951 370.4L952 369.3L953 366.3L954 363.3L955 360.1L956 355.1L957 350.1L958 345.1L959 343L960 338.4L961 333.2L962 327.2L963 321.2L964 316.2L965 311.7L966 307.7L967 311L968 313L969 312.4L970 312L971 305.1L972 299.4L973 295.4L974 294.1L975 282.4L976 268.6L977 251.9L978 235.3L979 221.5L980 226.1L981 236.6L982 246.7L983 256.5L984 271.2L985 283.8L986 293.2L987 297.2L988 298L989 297.2L990 291.1L991 284.9L992 278.7L993 278L994 281.1L995 284.5L996 287.2L997 289.2L998 301.1L999 305.5L1000 312.3L1001 315.3L1002 321.4L1003 322.9L1004 324.4L1005 325.9L1006 327.4L1007 328.9L1008 330.4L1009 331.5L1010 332.5L1011 333.5L1012 334.5L1013 335.5L1014 336.5L1015 338.1L1016 340.1L1017 342.1L1018 344.1L1019 346.1L1020 348.8L1021 352.2L1022 355.5L1023 359.4L1024 363.4L1025 366.1L1026 367.6L1027 369.1L1028 370.4L1029 371.4L1030 372.4L1031 373.4L1032 374.4L1033 375.4L1034 376L1035 376.4L1036 376L1037 374L1038 372.4L1039 371.1L1040 369.3L1041 367.3L1042 365.3L1043 363.3L1044 361.6L1045 361.1L1046 360.5L1047 360L1048 359.4L1049 358.9L1050 359.3L1051 361.2L1052 363.2L1053 365.1L1054 367L1055 368.9L1056 370.8L1057 372.8L1058 372.3L1059 370.8L1060 369.3L1061 367.4L1062 364L1063 359.3L1064 354.1L1065 349.6L1066 347.6L1067 345.6L1068 343.8L1069 344.3L1070 344.9L1071 345.5L1072 346.1L1073 346.9L1074 349.1L1075 351.4L1076 353.6L1077 355.9L1078 358.1L1079 360.6L1080 363.4L1081 366.4L1082 369.1L1083 371.8L1084 373L1085 374L1086 375L1087 375.5L1088 376L1089 376.4L1090 376.8L1091 377.1L1092 377.3L1093 377.8L1094 378.5L1095 377.5L1096 374.9L1097 374.8L1098 374.8L1099 374.8L1100 374.8L1101 374.8L1102 374.8L1103 374.9L1104 375.3L1105 375.3L1106 375.3L1107 375.1L1108 374.7L1109 374L1110 373.2L1111 371.6L1112 369.9L1113 370L1114 370.1L1115 370.2L1116 370.2L1117 370.3L1118 370.4L1119 372.1L1120 375.1L1121 376.1L1122 377.1L1123 377.7L1124 378.1L1125 377.8L1126 377.6L1127 378.2L1128 379L1129 379.4L1130 379.4L1131 379.1L1132 378.9L1133 379.1L1134 379.3L1135 379.3L1136 379.1L1137 378.6L1138 378.2L1139 378.5L1140 378.7L1141 379L1142 379L1143 379L1144 378.9L1145 378.8L1146 378.7L1147 378.5L1148 378.4L1149 378.2L1150 377.9L1151 377.7L1152 377.4L1153 377.1L1154 377.7L1155 377.9L1156 378.1L1157.3 378.3L1157.3 384.1Z" fill="#86cab5"/><path d="M150 384.1L150 361.7L151 362.4L152 362.2L153 361.9L154 361.7L155 361.4L156 361.1L157 360.7L158 360.3L159 359.9L160 359.6L161 358.8L162 358.1L163 357.3L164 356.6L165 355.8L166 354.6L167 353.4L168 352.1L169 350.9L170 349.6L171 349L172 348.3L173 347.7L174 347.3L175 348.6L176 351L177 353.4L178 355.8L179 358.3L180 360.9L181 361.9L182 361.6L183 360.5L184 358.3L185 344.8L186 340L187 331.2L188 322.5L189 313.8L190 305L191 300L192 295L193 290L194 289L195 288L196 287L197 288.7L198 290.3L199 292L200 296.3L201 300.7L202 305L203 310L204 315L205 320L206 325L207 328.8L208 332.5L209 336.2L210 340L211 342.4L212 344.8L213 347.2L214 349.6L215 352L216 353.6L217 355.2L218 356.8L219 358.4L220 360L221 362.4L222 362.9L223 363.4L224 363.9L225 364.4L226 364.7L227 364.8L228 365L229 365.2L230 365.3L231 365.5L232 365.7L233 365.9L234 366.6L235 367.2L236 367.9L237 368.6L238 369.2L239 370.3L240 371.7L241 373L242 374L243 375L244 376L245 376.9L246 375.1L247 373.9L248 372.6L249 371.4L250 370.1L251 367.6L252 364.1L253 360.6L254 357.1L255 354.2L256 353.1L257 353.7L258 355.1L259 357.9L260 360.7L261 363.4L262 365.9L263 368.4L264 369.6L265 370.9L266 372L267 373.1L268 374.2L269 374.5L270 374.9L271 375.2L272 375.5L273 375.9L274 374L275 374.6L276 375.3L277 375.9L278 376.5L279 376.7L280 377.5L281 378.3L282 378.6L283 378.8L284 379.1L285 379.4L286 379.8L287 380.1L288 380.4L289 378.8L290 377.1L291 375.6L292 375L293 374.4L294 374.6L295 374.9L296 375.1L297 375.4L298 375.6L299 375.1L300 374.3L301 372.4L302 372.2L303 372L304 371.9L305 371.8L306 371.7L307 371.9L308 372.9L309 373.1L310 376.3L311 376.9L312 377.3L313 377.6L314 377.8L315 377.9L316 378L317 378.1L318 377.3L319 376.3L320 374.4L321 372.4L322 370.8L323 369.3L324 368.9L325 368.7L326 368.9L327 369.3L328 369.7L329 370.1L330 371L331 372L332 375L333 373.4L334 370.6L335 367.9L336 365.1L337 362.9L338 362.9L339 363.5L340 364.5L341 365.2L342 366L343 368.1L344 370.6L345 375.1L346 377.9L347 379.3L348 379.6L349 379.6L350 379.6L351 379.6L352 379.6L353 379.6L354 379.6L355 379.6L356 379.7L357 379.9L358 380L359 380.1L360 380.5L361 381L362 381.5L363 382L364 381.3L365 379.7L366 378.7L367 378L368 377.3L369 376.1L370 374.6L371 372.4L372 369.9L373 367L374 364.6L375 364.6L376 364.6L377 364.8L378 365L379 366.1L380 367.6L381 369.8L382 372.3L383 374.1L384 375.6L385 376.2L386 376.4L387 376.1L388 376.1L389 376.1L390 376.1L391 376.1L392 376.2L393 376.3L394 376.6L395 377.6L396 377.8L397 377.9L398 378.1L399 378.3L400 378.5L401 378.6L402 377.6L403 375.6L404 372.3L405 369.1L406 364L407 353.9L408 341.9L409 329.1L410 324.2L411 324.1L412 324.4L413 326.1L414 328.2L415 330.8L416 343.5L417 349.2L418 350L419 346.5L420 344.5L421 342.5L422 339.9L423 338.9L424 341.7L425 344.7L426 347.8L427 351.2L428 354.7L429 358.2L430 359.8L431 360.9L432 361.8L433 362.8L434 363.7L435 364.9L436 366.7L437 368.1L438 367.1L439 365.8L440 364.4L441 363.1L442 361.6L443 359.6L444 357.6L445 355.9L446 355L447 356.6L448 358.9L449 361.4L450 363.9L451 366.4L452 367.6L453 368.1L454 368.5L455 368.4L456 368L457 367.7L458 367.3L459 367L460 366.5L461 366L462 366L463 366.1L464 366.2L465 366.2L466 366.2L467 366.2L468 366.6L469 364.9L470 359.8L471 354.2L472 347.5L473 338.7L474 329.6L475 320.9L476 313.9L477 308.3L478 304.2L479 306.5L480 309L481 312.5L482 318.9L483 325.8L484 334.8L485 340.4L486 345.7L487 349.9L488 353.2L489 356.3L490 358.3L491 360.3L492 362.3L493 364.3L494 366.3L495 367.8L496 368.7L497 369.4L498 370.2L499 370.7L500 371.2L501 371.2L502 371.1L503 371.1L504 371.3L505 371.4L506 371.6L507 371.7L508 371.7L509 371.9L510 371.5L511 371L512 369.6L513 368.1L514 366.6L515 365.3L516 363.9L517 362.5L518 360.5L519 358.5L520 356.9L521 355.8L522 354.7L523 353.6L524 353.7L525 354.2L526 354.7L527 354.7L528 354.4L529 354.1L530 353.8L531 353.5L532 351.7L533 348.4L534 345.1L535 339L536 332.3L537 327.6L538 323.8L539 324.8L540 329.3L541 336.8L542 339.9L543 342.9L544 345.8L545 347.5L546 347.2L547 346.1L548 345.4L549 343.8L550 341.9L551 338.6L552 336.2L553 334.4L554 332.5L555 330.8L556 329.2L557 327.7L558 326.3L559 325L560 325.2L561 327.6L562 330L563 332.3L564 334.5L565 336.5L566 338.4L567 340L568 341.6L569 343.1L570 344.7L571 346.3L572 346.8L573 344.3L574 339.8L575 336.2L576 332.1L577 337.8L578 324.5L579 309.5L580 300L581 298L582 296L583 294L584 292L585 290L586 295L587 300L588 305L589 310L590 320L591 330L592 340L593 346.9L594 353.8L595 354.2L596 344.6L597 335L598 321.7L599 314.2L600 305.4L601 292.9L602 281.7L603 275L604 272.7L605 270.3L606 268L607 272L608 276L609 280L610 290L611 300L612 310L613 317.5L614 325L615 332.5L616 340L617 345.5L618 350.9L619 356.4L620 352L621 343.5L622 335L623 333.3L624 331.7L625 330L626 321.7L627 313.3L628 305L629 297.3L630 289.7L631 282L632 274L633 266L634 258L635 250L636 244L637 238L638 232L639 229.2L640 226.4L641 227L642 231L643 235L644 241.7L645 248.3L646 272.2L647 285.5L648 291.5L649 298.5L650 305.5L651 312.5L652 318.5L653 323.5L654 326.2L655 328.2L656 331.9L657 335.9L658 338.4L659 342L660 346L661 350L662 352.3L663 354.5L664 356.8L665 359.1L666 361.2L667 362.6L668 363.9L669 365.2L670 366.6L671 367.9L672 369.4L673 370.9L674 372.4L675 372.7L676 371.8L677 371L678 370.2L679 369.3L680 368.3L681 366.8L682 365.3L683 363.8L684 362.3L685 361.2L686 362.2L687 363.2L688 364.2L689 365.9L690 367.9L691 369.9L692 372.5L693 375.2L694 376.2L695 377.2L696 378.2L697 379.2L698 379.3L699 379.5L700 379.5L701 379.2L702 379L703 378.8L704 378.4L705 377.8L706 376.3L707 374.8L708 373.5L709 372.7L710 371.9L711 371.4L712 371.6L713 371.9L714 372.1L715 372.4L716 372.6L717 372.9L718 372.8L719 372.3L720 371.9L721 373L722 374L723 375.1L724 376.2L725 377.7L726 379.2L727 379.8L728 380.3L729 380.4L730 380.5L731 380.7L732 380.8L733 380.9L734 381L735 381L736 381L737 381L738 381L739 381L740 380.8L741 380.5L742 380.2L743 379.8L744 379.3L745 378.8L746 378.2L747 377.4L748 376.9L749 376.6L750 376.5L751 376.4L752 376.1L753 375.9L754 376L755 376.1L756 375.9L757 375.5L758 375L759 374.6L760 374.4L761 374.8L762 375.2L763 375.6L764 376.1L765 376.5L766 377L767 379.8L768 380.1L769 379.9L770 379.6L771 378.9L772 378.3L773 377.9L774 377.6L775 377.5L776 377.5L777 377.5L778 377.5L779 377.5L780 377.7L781 377.9L782 376.5L783 374.7L784 370.7L785 366.8L786 362.1L787 360.1L788 358.1L789 355.6L790 353.5L791 353.6L792 353.8L793 353.4L794 352L795 348.6L796 342.6L797 338L798 335.9L799 334L800 332.4L801 330.8L802 332.3L803 333.8L804 334.7L805 335.5L806 334.2L807 333.9L808 332.3L809 330.7L810 330.1L811 329.5L812 328.9L813 327.9L814 329.5L815 331.7L816 334L817 336.1L818 337.8L819 339.6L820 341.7L821 343.9L822 346.2L823 348.3L824 350.5L825 352.6L826 354.8L827 357L828 359.3L829 361.5L830 363.4L831 364.7L832 366L833 367.4L834 368.6L835 369.8L836 371L837 372.1L838 373.2L839 374.3L840 375.4L841 377L842 377.9L843 378.2L844 377.5L845 376.2L846 375L847 373.8L848 373.1L849 371.9L850 370.9L851 370.4L852 371L853 371.7L854 373.2L855 374.4L856 375.4L857 376.4L858 377L859 377.5L860 378L861 378.3L862 378.3L863 378.3L864 378.3L865 378.3L866 378L867 377L868 376L869 375L870 373.6L871 372.1L872 370.6L873 368.8L874 366.3L875 363.8L876 361.3L877 360.1L878 357.6L879 356.6L880 356.3L881 356.7L882 358L883 359.3L884 362.3L885 365.3L886 368.3L887 370.2L888 371.2L889 372.2L890 373.1L891 373.4L892 373.6L893 373.9L894 374.1L895 374.4L896 374.6L897 374.9L898 375.1L899 375.4L900 375.6L901 373.6L902 370.9L903 368.1L904 365L905 361L906 357L907 353L908 350.5L909 350.1L910 351L911 352.2L912 355.7L913 359.3L914 361.9L915 363.9L916 365.6L917 366.8L918 367.9L919 369.1L920 370.3L921 371.2L922 371.8L923 372.5L924 373.2L925 373.8L926 372.7L927 370.6L928 366L929 362.6L930 359.1L931 355.6L932 352.6L933 349.8L934 347L935 344.2L936 345.5L937 348.7L938 351.9L939 355.1L940 357.4L941 359.4L942 361.4L943 363.4L944 365.4L945 366.7L946 368L947 369.4L948 370.7L949 371.4L950 370.9L951 370.4L952 369.3L953 366.3L954 363.3L955 360.1L956 355.1L957 350.1L958 345.1L959 343L960 338.4L961 333.2L962 327.2L963 321.7L964 323.2L965 324.7L966 325.9L967 324.4L968 322.9L969 321.4L970 320.7L971 320L972 319.4L973 318.7L974 318L975 317L976 316L977 314.7L978 311.7L979 313.2L980 318.2L981 320.7L982 323.2L983 325.7L984 328.2L985 330.7L986 333.2L987 334.3L988 334.8L989 335.3L990 334.1L991 331.8L992 330.4L993 332.1L994 333.7L995 335.7L996 337.7L997 339.7L998 341.7L999 343.7L1000 345.7L1001 347.3L1002 348.6L1003 349.9L1004 351.3L1005 352.6L1006 353.6L1007 354.6L1008 355.6L1009 356.6L1010 357.6L1011 358.6L1012 359.6L1013 360.6L1014 361.6L1015 362.6L1016 363.6L1017 364.6L1018 365.6L1019 366.6L1020 367.6L1021 368.6L1022 369.6L1023 370.6L1024 371.6L1025 372.4L1026 373.1L1027 373.9L1028 374.6L1029 375.4L1030 376.1L1031 376.7L1032 377.2L1033 377.7L1034 378.2L1035 378.7L1036 379.2L1037 375.9L1038 375.2L1039 371.9L1040 369.7L1041 367.4L1042 365.3L1043 363.9L1044 363.1L1045 362.4L1046 361.7L1047 361.4L1048 361.1L1049 360.8L1050 361.3L1051 362.7L1052 364.2L1053 365.6L1054 367.4L1055 369.2L1056 371L1057 372.8L1058 372.3L1059 370.8L1060 369.3L1061 367.4L1062 364L1063 359.3L1064 357L1065 355L1066 353.3L1067 352.1L1068 351L1069 351.3L1070 352.1L1071 352.8L1072 353.8L1073 354.9L1074 356.8L1075 358.5L1076 360.1L1077 361.8L1078 363.5L1079 365.3L1080 367.1L1081 368.9L1082 370.6L1083 372.2L1084 373.8L1085 374.8L1086 375.5L1087 376.1L1088 376.7L1089 377.2L1090 377.8L1091 378.3L1092 378.9L1093 379.4L1094 379.9L1095 379.5L1096 378L1097 377.5L1098 377L1099 376.7L1100 376.4L1101 376.2L1102 375.9L1103 375.7L1104 375.4L1105 375.3L1106 375.3L1107 375.3L1108 374.7L1109 374L1110 373.3L1111 373L1112 373L1113 373.2L1114 373.3L1115 373.5L1116 373.6L1117 373.6L1118 373.6L1119 374.3L1120 375.6L1121 377.1L1122 378.1L1123 379.1L1124 378.9L1125 378.8L1126 378.7L1127 378.8L1128 379L1129 379.4L1130 379.4L1131 379.1L1132 378.9L1133 379.1L1134 379.3L1135 379.3L1136 379.1L1137 378.6L1138 378.2L1139 378.5L1140 378.7L1141 379L1142 379L1143 379L1144 378.9L1145 378.8L1146 378.7L1147 378.5L1148 378.4L1149 378.2L1150 377.9L1151 377.7L1152 377.4L1153 377.1L1154 377.7L1155 377.9L1156 378.1L1157.3 378.3L1157.3 384.1Z" fill="#9dd6b0"/><path d="M150 384.1L150 368.3L151 368.1L152 367.8L153 367.6L154 367.3L155 367.1L156 366.6L157 366.1L158 365.6L159 365.1L160 364.6L161 364.1L162 363.6L163 363.1L164 362.6L165 362.1L166 360.7L167 359.2L168 357.7L169 356.2L170 354.7L171 353.9L172 353.3L173 352.6L174 352.3L175 354.3L176 356.3L177 358.3L178 360.4L179 362.7L180 365.1L181 367.4L182 367.4L183 365.9L184 363.8L185 355.8L186 347.8L187 341.6L188 336.6L189 331.7L190 328.7L191 325.7L192 323.8L193 322.8L194 321.9L195 322.9L196 323.9L197 326.7L198 331L199 335.9L200 340.9L201 345.1L202 349.1L203 352.7L204 355.4L205 358.1L206 360.7L207 362.7L208 364.1L209 365.4L210 366.7L211 367.4L212 367.9L213 368.4L214 368.9L215 369.4L216 369.9L217 370.4L218 370.9L219 371.4L220 371.9L221 372.1L222 372.1L223 372.1L224 372.1L225 372.1L226 372.1L227 372.1L228 372.1L229 372.1L230 372.1L231 372.1L232 372.1L233 372.1L234 372.5L235 372.8L236 373.1L237 373.5L238 373.8L239 374.1L240 374.5L241 374.9L242 375.4L243 375.9L244 376.4L245 376.9L246 376.5L247 375.5L248 374.5L249 373.5L250 372.5L251 370.9L252 368.9L253 366.9L254 364.9L255 364.2L256 363.7L257 363.8L258 365.5L259 367.1L260 368.8L261 370.1L262 371.1L263 372.1L264 373.1L265 374.1L266 375L267 375.6L268 376.3L269 377L270 377.6L271 378.3L272 379L273 379.6L274 375.7L275 376.8L276 377.9L277 379L278 380.1L279 380.2L280 380.3L281 380.4L282 380.5L283 380.6L284 380.8L285 381L286 381.2L287 381.4L288 381.6L289 380.3L290 378.9L291 378L292 377.6L293 377.2L294 377.1L295 377.1L296 377.1L297 377.1L298 377.1L299 375.8L300 374.3L301 373.8L302 373.5L303 373.2L304 373L305 372.9L306 372.8L307 372.6L308 372.9L309 373.1L310 376.3L311 376.9L312 377.3L313 377.6L314 377.8L315 377.9L316 378L317 378.1L318 377.3L319 376.3L320 374.4L321 372.4L322 370.8L323 369.3L324 368.9L325 368.7L326 368.9L327 369.3L328 369.7L329 370.1L330 371L331 372L332 375L333 373.4L334 370.6L335 367.9L336 365.1L337 364.4L338 364.2L339 364.3L340 364.6L341 365.2L342 366L343 368.1L344 370.6L345 375.1L346 377.9L347 379.3L348 379.6L349 379.6L350 379.6L351 379.6L352 379.6L353 379.6L354 379.6L355 379.6L356 379.7L357 379.9L358 380L359 380.1L360 380.5L361 381L362 381.5L363 382L364 381.3L365 379.7L366 378.7L367 378L368 377.3L369 376.1L370 374.6L371 372.4L372 369.9L373 367L374 364.6L375 364.6L376 364.6L377 364.8L378 365L379 366.1L380 367.6L381 369.8L382 372.3L383 374.1L384 375.6L385 376.2L386 376.4L387 376.6L388 376.6L389 376.6L390 376.6L391 376.6L392 376.8L393 377.1L394 377.3L395 377.6L396 377.8L397 377.9L398 378.1L399 378.3L400 378.5L401 378.6L402 377.6L403 375.6L404 372.3L405 369.1L406 364L407 354.7L408 345.4L409 335.4L410 329.2L411 329.2L412 329.2L413 331.2L414 333.2L415 335.2L416 343.5L417 349.2L418 350L419 346.5L420 344.5L421 342.5L422 341.1L423 340.3L424 342.8L425 345.3L426 347.8L427 351.2L428 354.7L429 358.2L430 360.1L431 361.6L432 363.1L433 364.3L434 365.3L435 366.3L436 367.3L437 368.3L438 367.1L439 365.8L440 364.4L441 363.1L442 361.6L443 359.6L444 357.6L445 355.9L446 356.9L447 357.9L448 358.9L449 361.4L450 363.9L451 366.4L452 367.6L453 368.6L454 369.6L455 369.8L456 369.5L457 369.3L458 369L459 368.8L460 368.5L461 368.4L462 368.4L463 368.4L464 368.4L465 368.4L466 368.4L467 368.4L468 368.4L469 365.2L470 359.8L471 354.2L472 347.5L473 340.8L474 333L475 325L476 318.4L477 313.1L478 309.1L479 310.4L480 311.7L481 315.3L482 319.3L483 325.8L484 334.8L485 340.4L486 345.7L487 349.9L488 353.2L489 356.3L490 358.3L491 360.3L492 362.3L493 364.3L494 366.3L495 368.3L496 369.2L497 370L498 370.8L499 371.7L500 372.3L501 372.4L502 372.5L503 372.6L504 372.7L505 372.8L506 372.9L507 373L508 372.9L509 372.4L510 371.9L511 371.1L512 369.6L513 368.1L514 366.6L515 365.3L516 363.9L517 362.6L518 361.3L519 360.1L520 359.1L521 358.1L522 357.1L523 356.1L524 356.2L525 356.7L526 357.2L527 357.1L528 356.6L529 356L530 355.5L531 355L532 351.7L533 348.4L534 345.1L535 341.8L536 337.4L537 332.8L538 328.2L539 330L540 333.4L541 336.8L542 339.9L543 342.9L544 345.8L545 348.8L546 348.7L547 347.2L548 345.7L549 344.2L550 342.7L551 341.2L552 339.7L553 338.2L554 336.8L555 335.5L556 334.1L557 332.8L558 331.5L559 330.1L560 330.1L561 332.1L562 334.1L563 336.1L564 338.1L565 340.1L566 341.9L567 343.2L568 344.6L569 345.9L570 347.3L571 348.6L572 348.8L573 344.3L574 339.8L575 336.2L576 332.1L577 340L578 335L579 330L580 325L581 323.6L582 322.2L583 320.8L584 319.4L585 318L586 322.2L587 326.5L588 330.8L589 335L590 340.7L591 346.3L592 352L593 356.6L594 361.2L595 362L596 357L597 352L598 343L599 334L600 325L601 320L602 315L603 310L604 308.3L605 306.7L606 305L607 308.3L608 311.7L609 315L610 321.7L611 328.3L612 335L613 340L614 345L615 350L616 355L617 357.7L618 360.5L619 363.2L620 360.9L621 356.4L622 352L623 350.4L624 348.7L625 347.1L626 345.5L627 343.8L628 338.8L629 330.4L630 322L631 315.2L632 308.4L633 301.6L634 294.8L635 288L636 281.5L637 275L638 270.7L639 266.3L640 262L641 266.3L642 270.7L643 275L644 281L645 287L646 293.6L647 300.7L648 307.4L649 313.2L650 319.1L651 325L652 329.5L653 334L654 338.5L655 343L656 346.1L657 349.3L658 352.4L659 355.2L660 357.6L661 360L662 363.1L663 366.2L664 369.2L665 370.1L666 370.6L667 371.1L668 371.6L669 372.1L670 372.6L671 373.1L672 373.8L673 374.6L674 375.3L675 375.3L676 374.4L677 373.6L678 372.8L679 371.9L680 371L681 370L682 369L683 368L684 367L685 366.3L686 366.8L687 367.3L688 367.8L689 369.2L690 370.9L691 372.7L692 374.2L693 375.2L694 376.2L695 377.2L696 378.2L697 379.2L698 379.3L699 379.5L700 379.6L701 379.6L702 379.4L703 379.3L704 378.9L705 377.9L706 376.9L707 375.9L708 375.1L709 374.4L710 373.6L711 373.2L712 373.4L713 373.7L714 373.9L715 374.2L716 374.4L717 374.7L718 374.7L719 374.3L720 374L721 374.9L722 375.9L723 376.9L724 377.8L725 378.6L726 379.3L727 380.1L728 380.3L729 380.4L730 380.5L731 380.7L732 380.8L733 380.9L734 381L735 381L736 381L737 381L738 381L739 381L740 380.8L741 380.5L742 380.2L743 379.8L744 379.5L745 379.2L746 378.8L747 378.5L748 378.2L749 377.8L750 377.8L751 377.8L752 377.8L753 377.8L754 377.8L755 377.8L756 377.8L757 377.8L758 377.8L759 377.8L760 377.8L761 377.8L762 378L763 378.3L764 378.7L765 379.1L766 379.5L767 379.8L768 380.1L769 379.9L770 379.6L771 379.4L772 379.1L773 378.9L774 378.6L775 378.6L776 378.6L777 378.6L778 378.6L779 378.6L780 378.6L781 377.9L782 376.5L783 374.7L784 370.7L785 366.8L786 362.8L787 360.2L788 358.7L789 357.2L790 355.8L791 355.3L792 354.8L793 354.3L794 352L795 348.6L796 345.5L797 344.8L798 344.1L799 344L800 344.5L801 345L802 345.5L803 345L804 344.5L805 344L806 343.5L807 343L808 342.5L809 342.3L810 344.3L811 346.3L812 348.3L813 349.3L814 349.8L815 350.3L816 350.8L817 351.3L818 351.8L819 352.3L820 353.6L821 355.1L822 356.6L823 358.1L824 359.6L825 361.1L826 362.6L827 364.6L828 366.6L829 368.6L830 370.1L831 371.1L832 372.1L833 373.1L834 373.9L835 374.6L836 375.4L837 376L838 376.5L839 377L840 377.4L841 377.7L842 377.9L843 378.2L844 377.5L845 376.2L846 375L847 373.8L848 373.1L849 372.3L850 371.6L851 371.8L852 372.3L853 372.8L854 373.4L855 374.4L856 375.4L857 376.4L858 377L859 377.5L860 378L861 378.3L862 378.3L863 378.3L864 378.3L865 378.3L866 378L867 377L868 376L869 375L870 373.6L871 372.1L872 370.6L873 368.8L874 366.3L875 363.8L876 361.3L877 360.1L878 359.1L879 358.1L880 357.8L881 358.3L882 358.8L883 359.3L884 362.3L885 365.3L886 368.3L887 370.2L888 371.2L889 372.2L890 373.1L891 373.4L892 373.6L893 373.9L894 374.1L895 374.4L896 374.6L897 374.9L898 375.1L899 375.4L900 375.6L901 373.6L902 370.9L903 368.1L904 365L905 361L906 357L907 353L908 352L909 351.5L910 351L911 352.2L912 355.7L913 359.3L914 361.9L915 363.9L916 365.6L917 366.8L918 367.9L919 369.1L920 370.3L921 371.2L922 371.8L923 372.5L924 373.2L925 373.8L926 372.7L927 370.6L928 366L929 362.6L930 359.1L931 355.6L932 352.6L933 349.8L934 347L935 344.2L936 345.5L937 348.7L938 351.9L939 355.1L940 357.4L941 359.4L942 361.4L943 363.4L944 365.4L945 366.7L946 368L947 369.4L948 370.7L949 371.4L950 370.9L951 370.4L952 369.3L953 366.3L954 363.3L955 360.1L956 355.1L957 350.1L958 345.1L959 343.5L960 342L961 340.5L962 340.8L963 341.6L964 342.4L965 343.2L966 342.7L967 342.1L968 342.8L969 344.8L970 346.8L971 348.4L972 349.4L973 350.4L974 351L975 350.5L976 350L977 349.6L978 349.6L979 349.6L980 349.6L981 351.1L982 352.6L983 354.1L984 355.6L985 357.1L986 358.6L987 358.6L988 358.1L989 357.6L990 357.1L991 356.6L992 356.1L993 356.3L994 357.3L995 358.3L996 359.3L997 360.3L998 361.3L999 362.3L1000 363L1001 363.8L1002 364.5L1003 365.3L1004 366L1005 366.8L1006 367.3L1007 367.8L1008 368.3L1009 368.8L1010 369.3L1011 369.8L1012 370.3L1013 370.8L1014 371.3L1015 371.8L1016 372.3L1017 372.8L1018 373.3L1019 373.8L1020 374.3L1021 374.8L1022 375.3L1023 375.8L1024 376.3L1025 376.7L1026 377L1027 377.4L1028 377.8L1029 378.2L1030 378.5L1031 378.8L1032 379.1L1033 379.3L1034 379.6L1035 379.8L1036 380.1L1037 379.8L1038 379.1L1039 373.3L1040 370.8L1041 368.3L1042 366.1L1043 365.3L1044 364.5L1045 363.6L1046 362.8L1047 362.8L1048 362.8L1049 362.8L1050 363.2L1051 364.2L1052 365.2L1053 366.2L1054 367.8L1055 369.4L1056 371.1L1057 372.8L1058 372.3L1059 370.8L1060 369.3L1061 367.4L1062 365.4L1063 363.4L1064 361.9L1065 360.4L1066 359.1L1067 358.6L1068 358.1L1069 358.2L1070 359.2L1071 360.2L1072 361.5L1073 363L1074 364.5L1075 365.6L1076 366.6L1077 367.6L1078 368.9L1079 370.3L1080 371.6L1081 372.9L1082 374L1083 375L1084 376L1085 377L1086 377.8L1087 378.3L1088 378.8L1089 379.3L1090 379.8L1091 380.1L1092 380.5L1093 380.9L1094 381.3L1095 381.6L1096 381.2L1097 380.2L1098 379.2L1099 378.6L1100 378.1L1101 377.6L1102 377.1L1103 376.6L1104 376.2L1105 376.7L1106 377.2L1107 377.4L1108 376.9L1109 376.4L1110 376.2L1111 376.2L1112 376.2L1113 376.3L1114 376.6L1115 376.8L1116 376.9L1117 376.9L1118 376.9L1119 378.1L1120 379.4L1121 380.4L1122 380.4L1123 380.4L1124 380.4L1125 380.4L1126 380.4L1127 380.3L1128 380.2L1129 380.1L1130 380L1131 379.8L1132 379.7L1133 379.6L1134 379.5L1135 379.3L1136 379.2L1137 379.1L1138 379L1139 379L1140 379L1141 379L1142 379L1143 379L1144 378.9L1145 378.8L1146 378.7L1147 378.5L1148 378.4L1149 378.3L1150 378.1L1151 377.9L1152 377.8L1153 377.6L1154 377.7L1155 377.9L1156 378.1L1157.3 378.3L1157.3 384.1Z" fill="#b8e2ab"/><path d="M150 384.1L150 416.1L150.5 416.1L151 426.3L151.3 431.7L152 437.6L152.1 438L153 436.1L153.6 434.9L154 435.6L155 437.6L155.2 438L156 437.2L156.8 436.5L157 435.7L158 432.7L158.3 431.7L159 427.7L159.1 427L159.9 411.4L160 410.7L161 404.7L161.5 402L162 400.4L163 397.4L163 397.2L164 395.3L165 393.3L165.4 392.5L166 392.3L167 392L167.7 391.8L168 391.7L169 391.3L170 391L170.1 391L171 390.7L172 390.3L172.4 390.2L173 390.4L174 390.7L174.8 391L175 390.9L176 390.6L177 390.2L177.1 390.2L178 391.5L178.7 392.5L179 392.5L180 392.1L181 391.8L181.1 391.8L182 391.5L183 391.3L184 391L184.2 391L185 391.5L186 392.2L186.6 392.5L187 391.9L188 390.4L188.1 390.2L189 389.8L189.7 389.4L190 389.8L191 391.2L192 392.5L192 392.5L193 393.2L194 393.8L194.4 394.1L195 394.9L196 396.3L196.7 397.2L197 398L198 401L198.3 402L199 404L199.9 406.7L200 407.6L201 415.6L201.5 419.2L202 423L203 430L203 430.2L204 430.7L204.6 431L205 429.9L206 427.4L206.2 427L207 422.8L207.7 419.2L208 416.5L209 406.5L209.3 403.5L210 399.3L210.9 394.1L211 394L212 393L213 392L213.2 391.8L214 391.5L215 391.2L215.6 391L216 391.4L217 392.4L217.1 392.5L218 395.1L218.7 397.2L219 398.7L220 403.7L220.3 405.1L221 410.2L221.8 416.1L222 417L223 423L223.4 425.5L224 427.8L225 431.7L225 431.7L226 429.7L226.5 428.6L227 427.2L228 424.2L228.1 423.9L229 420.9L230 417.6L230.5 416.1L231 411.8L232 403.8L232 403.5L233 405.5L233.6 406.7L234 409.9L235 417.9L235.2 419.2L236 425L236.7 430.2L237 430.4L238 431.4L238.3 431.7L239 430.4L239.9 428.6L240 427.8L241 421.8L241.4 419.2L242 414.7L243 406.7L243 406.7L244 403.4L245 400L245.4 398.8L246 398L247 396.6L247.7 395.7L248 395.1L249 393.1L249.3 392.5L250 391.6L251 390.3L251.6 389.4L252 389.4L253 389.4L254 389.4L254.8 389.4L255 389.5L256 389.7L257 390L257.9 390.2L258 390.2L259 389.9L260 389.7L261 389.4L261 389.4L262 389.4L263 389.4L264 389.4L264.2 389.4L265 389.8L266 390.3L267 390.8L267.3 391L268 391L269 391L270 391L270.5 391L271 391.2L272 391.5L272.8 391.8L273 392L274 393L275 394.1L275 394.1L276 396.8L276.8 398.8L277 399.2L278 400.7L279 402.2L280 403.7L280.5 404.5L281 406.1L282 409.6L283 413.1L284 416.6L284.3 417.6L285 421.4L286 426.8L287 432.1L287.1 432.7L288 435.6L289 439L289.9 442.1L290 442.4L291 446.4L291.8 449.6L292 448.9L293 444.9L293.7 442.1L294 441.8L295 440.8L295.6 440.2L296 438.5L297 434.5L297.5 432.7L298 431.1L299 428.1L299.3 427L300 426.4L301 425.4L301.2 425.2L302 426.7L303 428.7L303.1 428.9L304 430.7L305 432.7L305.9 434.6L306 434.7L307 436.7L308 438.7L308.7 440.2L309 441.2L310 445.2L310.6 447.7L311 448.8L312 451.8L312.5 453.4L313 454L314 455.2L314 455.3L315 448.2L315.3 445.9L316 444.5L317 442.5L317.2 442.1L318 447.6L319 454.6L319.1 455.3L320 462.5L321 470.3L321 470.5L322 479.1L322.3 481.6L323 487.5L323.4 491L323.8 496L324 495.3L324.7 492.9L325 491.8L326 487.5L326.1 487.2L327 479L327.6 474.1L328 468.6L329 456.1L329.1 455.3L330 441.9L330.4 436.4L331 432.1L332 425.1L332.3 423.3L333 421.1L334 418.1L334.1 417.6L335 416.5L336 415.2L337 413.9L337 413.9L338 415.2L339 416.6L339.8 417.6L340 417.9L341 419.2L342 420.6L342.6 421.4L343 421.9L344 423.2L345 424.6L345.4 425.2L346 426.6L347 429.1L347.3 429.9L348 428.8L349 427.3L349.2 427L350 424.6L351 421.6L351.1 421.4L352 418.9L353 416.3L353.9 413.9L354 413.4L355 408.4L355.8 404.5L356 404L357 402L358 400L358.6 398.8L359 399.9L360 402.5L361 405.2L361.4 406.3L362 407.3L363 409L364 410.6L364.3 411L365 410.3L366 409.3L367 408.3L367.1 408.2L368 407L369 405.7L369.9 404.5L370 404.4L371 403.7L372 403.1L372.7 402.6L373 402.4L374 401.7L375 401.1L375.5 400.7L376 400.4L377 399.7L378 399.1L378.4 398.8L379 398.6L380 398.3L381 397.9L381.2 397.9L382 400.7L383 404.2L383.1 404.5L384 407.3L384.9 410.1L385 410.5L386 417.5L386.8 423.3L387 424L388 428.5L388.7 431.7L389 431.6L390 431.1L390.6 430.8L391 429.2L392 425.2L392.5 423.3L393 420.1L394 414.1L394.4 412L395 408.8L396 403.8L396.2 402.6L397 400.3L398 397.3L398.1 396.9L399 395.8L400 394.4L400.9 393.2L401 393.3L402 395.9L402.5 397.3L403 396.7L404 395.3L404 395.3L405 392.1L405.6 390.2L406 389.3L406.6 388.2L407 389.8L407.6 392.2L408 395L408.6 399.3L409 401.4L410 406.7L410.1 407.5L411 409.7L411.7 411.5L412 412L413 413.3L413.2 413.5L414 413.8L415 414L415.2 414.1L416 412.8L416.7 411.5L417 410L418 404L418.3 402.4L419 398L419.8 393.2L420 393L421 391.6L421.3 391.2L422 391.4L423 391.6L423.3 391.7L424 391.5L425 391.3L425.4 391.2L426 391.2L427 391.2L427.4 391.2L428 392L428.9 393.2L429 393.5L430 397.5L430.5 399.3L431 401.1L432 404.4L432 404.5L433 407.8L433.5 409.5L434 410.7L435 413.2L435.5 414.6L436 415.2L437 416.5L437.1 416.6L438 413.4L438.6 411.5L439 409.6L440 404.9L440.1 404.4L441 402L441.6 400.3L442 399.6L443 397.6L443.7 396.3L444 396L445 395.3L445.7 394.8L446 394.7L447 394.4L447.7 394.3L448 394.1L449 393.6L449.8 393.2L450 393.1L451 392.6L451.8 392.2L452 392L453 391L453.3 390.7L454 389.8L454.8 388.7L455 388.6L456 388.4L456.9 388.2L457 388.1L458 387.9L458.9 387.6L459 387.7L460 387.9L460.9 388.2L461 388.2L462 388.4L463 388.7L463 388.7L464 388.7L465 388.7L465 388.7L466 388.9L467 389.2L467 389.2L468 389.4L469 389.7L469 389.7L470 389.4L471 389.2L471.1 389.2L472 388.9L473 388.7L473.1 388.7L474 389.3L475 390.1L475.1 390.2L476 391.9L477 393.9L477.2 394.3L478 395.5L479 397L479.2 397.3L480 398.1L481 399.1L481.2 399.3L482 399.7L483 400.2L483.3 400.3L484 400L485 399.5L485.3 399.3L486 397.2L487 394.2L487.3 393.2L488 389.9L488.3 388.2L489 390.1L489.4 391.2L490 394.4L490.4 396.3L491 397.2L492 398.7L492.4 399.3L493 399.9L494 400.9L494.4 401.4L495 401.6L496 402.1L496.5 402.4L497 402.5L498 402.8L498.5 402.9L499 398.6L499.5 394.3L500 390.9L500.5 387.1L501 386.9L502 386.4L502.6 386.1L503 386.3L504 386.6L505 386.9L505.6 387.1L506 387.3L507 387.6L508 387.9L508.7 388.2L509 388.1L510 387.9L511 387.8L511.7 387.6L512 387.6L513 387.2L514 386.9L514.8 386.6L515 386.5L516 386L516.8 385.6L517 385.6L518 385.4L519 385.2L519.8 385.1L520 385.2L521 385.5L522 385.8L522.9 386.1L523 386.2L524 386.5L525 386.8L525.9 387.1L526 387.1L527 387L528 386.8L529 386.6L529 386.6L530 386.5L531 386.3L532 386.2L532.8 386L533 386.1L534 386.3L535 386.5L535.7 386.6L536 387.7L537 391.2L537.6 393.3L538 394.5L539 397.5L539.5 399L540 399.3L541 399.8L542 400.4L542.4 400.6L543 400.4L544 400.2L545 400L545.3 400L546 397.4L547 393.9L547.2 393.3L548 390L548.1 389.5L549 389L550 388.5L550 388.5L551 388.3L552 388L553 387.8L553.9 387.6L554 387.7L555 388.3L556 389L556.7 389.5L557 390.3L558 393.3L558.6 395.2L559 396.7L560 400.7L560.5 402.9L561 404L562 406.5L562.5 407.6L563 407.4L564 406.9L564.4 406.7L565 404.8L566 401.8L566.3 400.9L567 398.1L568 394.1L568.2 393.3L569 390.9L570 387.9L570.1 387.6L571 387.4L572 387.3L573 387.2L573 387.2L574 387.5L575 387.9L576 388.2L576.8 388.5L577 388.8L578 390.5L579 392.2L579.7 393.3L580 393.6L581 394.6L582 395.6L582.5 396.2L583 396.6L584 397.6L585 398.6L585.4 399L586 399.2L587 399.6L588 399.9L588.3 400L589 400.2L590 400.6L591 400.9L591.1 400.9L592 401.8L593 402.8L593.1 402.9L594 404.7L595 406.7L595 406.7L596 406.2L596.9 405.7L597 405.6L598 405L599 404.3L599.7 403.8L600 403.4L601 401.9L601.7 400.9L602 399.2L602.6 396.2L603 395.2L604 392.7L604.5 391.4L605 391.2L606 390.9L607 390.6L607.4 390.4L608 390.7L609 391.2L609.3 391.4L610 392.4L611 393.9L611.2 394.3L612 397L613 400.5L613.1 400.9L614 403.1L615 405.6L615 405.7L616 407.2L617 408.6L617 408.5L618 407.5L618.9 406.7L619 406.3L620 403.3L620.8 400.9L621 400.1L622 396.1L622.7 393.3L623 392.7L624 390.7L624.6 389.5L625 389.3L626 388.7L627 388.2L627.5 387.9L628 388.2L629 388.8L630 389.3L630.3 389.5L631 389.9L632 390.6L633 391.2L633.2 391.4L634 391.5L635 391.6L636 391.8L636.1 391.8L637 391.6L638 391.5L638.9 391.4L639 391.2L640 387.8L641 389.8L641.6 391L642 392.7L643 396.7L643.1 397.2L644 400.7L644.7 403.5L645 404.4L646 407.4L646.3 408.2L647 409.7L647.8 411.3L648 411.7L649 413.7L649.4 414.5L650 416.9L651 420.8L651 420.9L652 424.9L652.5 427L653 429.3L654 434.3L654.1 434.9L654.9 442.7L655 446.5L655.6 467L656 471L656.3 474L657 484.1L657.5 491.3L658 488.4L658.9 483.2L659 481.5L659.6 471L660 469.4L660.4 467.8L661 462.9L661.9 455.2L662 454.7L663 444.7L663.5 439.6L664 431.7L664.3 427L665 418.6L665.1 417.6L666 421.3L666.6 423.9L667 425.7L668 430.7L668.2 431.7L669 435.7L669.8 439.6L670 440.4L671 444.4L671.3 445.8L672 447.8L672.9 450.5L673 450.7L673.7 452.1L674 451.2L674.8 449L675 447.9L676 442.9L676.1 442.7L677 439.8L677.6 438L678 436.8L679 433.8L679.2 433.3L680 426L680.8 419.2L681 416.7L681.5 411.3L682 406.7L682.3 403.5L683 400.8L683.1 400.4L684 399.5L684.7 398.8L685 400.1L685.5 401.9L686 402.5L687 403.5L687 403.5L688 404.5L688.6 405.1L689 405.5L690 406.5L690.2 406.6L691 408.8L692 411.3L693 413.8L693.3 414.5L694 416.6L695 419.6L696 422.6L696.4 423.9L697 425.9L698 429.4L699 432.9L699.6 434.9L700 437.5L701 443.5L701.1 444.3L702 443.4L702.7 442.7L703 441.2L704 436.2L704.3 434.9L705 431.2L705.8 427L706 425.8L707 418.8L707.4 416.1L708 412.4L709 406.6L709 406.6L710 404.6L710.5 403.5L711 404.2L712 405.7L713 407.2L713.7 408.2L714 408.7L715 410.2L716 411.7L716.8 412.9L717 412.8L718 412.3L718.4 412.1L719 411.3L720 410.1L721 408.8L721.5 408.2L722 408L723 407.5L724 407L724.6 406.6L725 406.7L726 407L727 407.2L727.8 407.4L728 407.3L729 406.5L730 405.8L730.9 405.1L731 405L732 404.5L733 404L734 403.5L734 403.5L735 404.5L736 403.3L737 402.1L737.2 401.9L738 402.8L738.8 403.5L739 403.4L740 402.7L741 402L741.8 420L742 425L742.6 440L743 444L743.3 447L744 460.1L744.7 473.3L745 477.7L746 492.5L746.5 499.9L747 504.7L748 514.4L748.7 521.2L749 523.9L750 532.8L750.8 539.9L751 540.8L751.3 542.2L752 537.2L752.3 535L753 527.9L753.4 523.9L754 515.5L755 501.4L755.3 497.2L756 488.6L756.6 481.3L757 477.5L758 467.9L759 459.7L759.3 457.3L760 453.7L760.6 450.6L761 450.2L762 449.3L763 447.5L764 445.8L765 444L766 443L767 442L767.5 441.5L768 441.2L769 440.5L770 440.2L770.7 440L771 439L772 435.1L772.6 432.7L773 431.2L774 427.2L774.5 425.2L775 423.7L776 420.7L776.4 419.5L777 418.3L778 416.3L778.3 415.7L779 414.5L780 412.9L781 411.2L781.1 411L782 409.8L783 408.5L783.9 407.3L784 407.2L785 406.2L786 405.2L786.7 404.5L787 404.4L788 404L789 403.7L789.6 403.5L790 403.2L791 402.6L792 401.9L792.4 401.6L793 401L794 400L795 399L795.2 398.8L796 398L797 397L798 396L798 396L799 394.5L799.9 393.2L800 393L801 391.5L801.8 390.3L802 390.3L803 389.9L804 389.6L804.6 389.4L805 389.3L806 389.1L806.5 388.9L807 389.1L808 389.3L808.4 389.4L809 389.7L810 390.2L810.3 390.3L811 390.2L812 389.9L812.1 389.9L813 391L814 392.2L814 392.2L815 393L816 393.9L816.8 394.6L817 394.5L818 394L819 393.5L819.7 393.2L820 393.1L821 392.8L822 392.6L823 392.3L823.4 392.2L824 392.1L825 391.8L826 391.6L827 391.3L827.2 391.3L828 391.2L829 391.1L830 390.9L831 390.8L831 390.8L832 390.8L833 390.8L834 390.8L835 390.8L835.8 390.8L836 391.5L837 394.5L837.4 395.6L838 396.8L839 398.8L839.8 400.4L840 400.8L841 402.8L842 404.8L842.2 405.2L843 406L843.8 406.8L844 406.1L845 403.1L845.4 402L846 400.7L847 398.7L847.8 397.2L848 397L849 396L850 395L851 394L851 394.1L852 396.1L853 398.1L853.4 398.8L854 400.1L855 402.1L855.8 403.6L856 404.1L857 406.1L858 408.1L858.2 408.4L859 410.9L859.8 413.2L860 414L860.9 417.2L861 416.6L862 412.3L862.2 411.6L863 408.2L863.8 405.2L864 404.7L865 402.7L866 400.7L866.2 400.4L867 399.3L868 397.9L868.6 397.2L869 396.6L870 395.3L871 394L871 393.9L872 392.6L873 391.3L873.3 390.8L874 390.1L875 389.1L875.7 388.4L876 388.2L877 387.6L878 386.9L878.1 386.8L879 386.8L880 386.8L881 386.8L881.3 386.8L882 387.4L883 388.4L883.7 389.2L884 389.7L885 391.7L885.3 392.4L886 402.7L886.5 410L887 423.4L887.4 434L888 449L888.2 454.8L889 463.7L889.3 467.5L890 469.5L890.9 472.3L891 472.5L892 474.5L892.5 475.5L893 477L893.8 479.5L894 480L894.5 481.1L895 476.4L895.1 475.5L895.4 457.9L895.7 442L896 428.7L896.1 426L896.7 414.8L897 413.1L898 407.5L898.1 406.8L899 403.3L899.7 400.4L900 399.6L901 396.6L901.3 395.6L902 394.7L903 393.4L903.7 392.4L904 392.2L905 391.4L906 390.7L906.9 390L907 390L908 389.5L909 389L910 388.5L910.1 388.4L911 388.3L912 388.1L913 388L913.3 387.9L914 387.8L915 387.7L916 387.6L916.5 387.6L917 387.6L918 387.6L919 387.6L920 387.6L921 387.4L921.3 387.3L922 387.4L923 387.6L923 387.6L924 387.5L925 387.3L926 387.2L926.1 387.1L927 386.9L928 386.6L929 386.4L929.1 386.3L930 386.3L931 386.2L932 386.1L932.2 386.1L933 386.1L934 386.1L935 386.1L935.2 386.1L936 386.3L937 386.4L938 386.6L938.3 386.6L939 387.5L940 388.8L940.3 389.2L941 389.4L942 389.7L943 390.1L943.4 390.2L944 390.3L945 390.6L946 390.8L947 391.1L947.4 391.2L948 390.3L949 388.8L949.5 388.2L950 387.9L951 387.4L952 386.9L952.5 386.6L953 386.5L954 386.1L955 385.8L955.5 385.6L956 385.5L957 385.4L958 385.2L958.6 385.1L959 385.1L960 385.2L961 385.2L962 385.3L962.7 385.3L963 385.4L964 385.6L965 385.8L965.7 385.9L966 385.9L967 386L968 386.1L968.8 386.1L969 386.2L970 386.3L971 386.5L971.8 386.6L972 386.6L973 386.4L974 386.3L974.8 386.1L975 386.2L976 386.3L977 386.5L977.9 386.6L978 386.7L979 387.6L980 388.4L980.9 389.2L981 389.2L982 389.9L983 390.5L984 391.2L984 391.2L985 391.7L986 392.2L986 392.2L987 391.2L988 390.2L988 390.2L989 389.6L990 388.9L991 388.2L991.1 388.2L992 388.2L993 388.2L994 388.2L995 388.2L995.2 388.2L996 388.2L997 388.2L998 388.2L999 388.2L999.2 388.2L1000 388L1001 387.7L1001.3 387.6L1002 387.4L1003 387.1L1004 386.7L1004.3 386.6L1005 386.7L1006 386.8L1007 386.9L1007.3 386.9L1008 387.7L1009 388.8L1009.4 389.2L1010 389.4L1011 389.7L1012 390L1012.4 390.2L1013 390.4L1014 390.8L1015 391.2L1015 391.4L1016 396L1016.5 398.3L1017 401.1L1018 406.4L1018 406.4L1019 410.4L1019.5 412.5L1020 414.4L1021 418.4L1021.1 418.6L1022 421.8L1022.6 423.7L1023 424.9L1023.8 427.3L1024 426.9L1024.6 425.7L1025 423L1025.6 418.6L1026 417.5L1026.6 415.6L1027 415.2L1028 414.2L1028.7 413.5L1029 413.2L1030 412.2L1030.7 411.5L1031 411.2L1032 410.2L1032.7 409.5L1033 409.7L1034 410.7L1034.8 411.5L1035 411.1L1035.8 409.5L1036 408.9L1037 406.4L1037.8 404.4L1038 404.1L1039 402.6L1039.8 401.4L1040 401.1L1041 399.1L1041.9 397.3L1042 397.1L1043 395.1L1043.9 393.2L1044 392.6L1045 385.8L1045.9 389.2L1046 389.1L1047 388.1L1048 387.1L1048 387.2L1049 387.8L1049.5 388L1050 388.2L1051 388.4L1052 388.7L1053 388.9L1053.9 389.1L1054 389.1L1055 389.1L1056 389.1L1057 389.1L1058 389.1L1058.4 389.1L1059 388.9L1060 388.5L1061 388.1L1062 387.7L1062.8 387.4L1063 387.3L1064 387.1L1065 386.9L1066 386.7L1067 386.5L1067.3 386.5L1068 386.6L1069 386.8L1070 387L1071 387.2L1071.7 387.4L1072 387.5L1073 388.2L1074 388.8L1075 389.5L1076 390.1L1076.2 390.2L1077 391.9L1078 393.9L1078.4 394.7L1079 395.1L1080 395.8L1081 396.4L1081.7 396.9L1082 397L1083 397.2L1084 397.5L1085 397.7L1086 398L1086.2 398L1087 398.3L1088 398.6L1089 399L1089.5 399.2L1090 399.8L1091 401.3L1091.8 402.5L1092 403.6L1093 408.6L1093.6 411.4L1094 412L1095 413.5L1095.1 413.6L1096 411.9L1097 409.9L1097.3 409.2L1098 407.2L1099 404.2L1099.6 402.5L1100 402.2L1101 401.5L1102 400.9L1102.9 400.3L1103 400.2L1104 399.9L1105 399.6L1106 399.2L1106.2 399.2L1107 400.3L1108 401.8L1108.5 402.5L1109 401.2L1110 398.7L1110.7 396.9L1111 396.5L1112 395L1112.9 393.6L1113 393.6L1114 393.2L1115 392.9L1116 392.6L1116.3 392.5L1117 392.8L1118 393.3L1119 393.8L1120 394.3L1120.7 394.7L1121 394.2L1122 392.4L1123 390.6L1123.9 401.2L1124 402.5L1125 415.5L1125.2 418.1L1126 424.9L1126.7 430.8L1127 432L1128 436.1L1128.8 439.3L1129 439.7L1130 441.7L1131 443.6L1131.5 444.6L1132 442.8L1133 439.3L1134 429.7L1134.1 428.7L1134.6 428.7L1135 440.6L1135.1 443.6L1135.8 464.7L1136 468.4L1136.6 479.6L1137 482.9L1137.9 490.2L1138 490.8L1139 496.4L1139.4 498.6L1140 501.3L1140.8 505L1141 505.3L1142 506.9L1142.1 507.1L1143 498.6L1143.6 481.7L1144 475.5L1144.7 464.7L1145 462.5L1146 455L1146.4 452L1147 448.4L1147.8 443.6L1148 442.5L1149 436.8L1149.3 435.1L1150 431.6L1151 426.6L1152 422.6L1153 418.5L1153.1 418.1L1154 415.5L1155 412.7L1155.3 411.8L1156 410.6L1156.5 409.7L1157.3 409L1157.3 384.1Z" fill="#d9606f"/><path d="M150 384.1L150 416.1L151 425L152 435.3L153 434.3L154 433.9L155 435.4L156 435.3L157 434.3L158 431.8L159 426.9L160 410.7L161 404.7L162 400.4L163 397.4L164 395.3L165 393.3L166 392.3L167 392L168 391.7L169 391.3L170 391L171 390.7L172 390.3L173 390.4L174 390.7L175 390.9L176 390.6L177 390.2L178 391.5L179 392.5L180 392.1L181 391.8L182 391.5L183 391.3L184 391L185 391.5L186 392.2L187 391.9L188 390.4L189 389.8L190 389.8L191 391.2L192 392.5L193 393.2L194 393.8L195 394.9L196 396.3L197 398L198 401L199 404L200 407.6L201 415.6L202 423L203 430L204 430.7L205 429.9L206 427.4L207 422.8L208 416.5L209 406.5L210 399.3L211 394L212 393L213 392L214 391.5L215 391.2L216 391.4L217 392.4L218 395.1L219 398.7L220 403.7L221 410.2L222 417L223 423L224 427.8L225 431.7L226 429.7L227 427.2L228 424.2L229 420.9L230 417.6L231 411.8L232 403.8L233 405.5L234 409.9L235 417.9L236 425L237 430.4L238 431.4L239 430.4L240 427.8L241 421.8L242 414.7L243 406.7L244 403.4L245 400L246 398L247 396.6L248 395.1L249 393.1L250 391.6L251 390.3L252 389.4L253 389.4L254 389.4L255 389.5L256 389.7L257 390L258 390.2L259 389.9L260 389.7L261 389.4L262 389.4L263 389.4L264 389.4L265 389.8L266 390.3L267 390.8L268 391L269 391L270 391L271 391.2L272 391.5L273 392L274 393L275 394.1L276 396.8L277 399.2L278 400.7L279 402.2L280 403.7L281 405.5L282 407.7L283 409.8L284 412L285 416.4L286 421.8L287 427.1L288 430.6L289 434L290 437.4L291 441.4L292 443.9L293 439.9L294 436.8L295 435.8L296 433.5L297 429.5L298 426.1L299 423.1L300 421.4L301 420.4L302 421.7L303 423.7L304 425.7L305 427.7L306 429.7L307 431.7L308 433.7L309 436.2L310 440.2L311 443.8L312 446.8L313 449L314 450.2L315 443.2L316 439.5L317 437.5L318 442.6L319 449.6L320 450.7L321 451.1L322 452.9L323 470.2L324 480.9L325 465.7L326 453L327 446L328 436.4L329 423.4L330 414.3L331 408.3L332 405.4L333 404.1L334 402.8L335 401.7L336 400.7L337 399.7L338 398.9L339 399.9L340 400.9L341 401.9L342 402.6L343 402.6L344 402.6L345 402.6L346 402.2L347 401.5L348 400.9L349 400.3L350 399.8L351 399.3L352 398.8L353 398.3L354 397.8L355 397.3L356 396.8L357 396.3L358 395.8L359 395.3L360 394.8L361 394.3L362 393.8L363 393.3L364 393.2L365 393.2L366 393.2L367 393.2L368 393.4L369 393.7L370 393.9L371 394.2L372 394.4L373 394.7L374 394.9L375 395.1L376 395.1L377 395.1L378 395.1L379 395.5L380 396.1L381 396.8L382 399.7L383 403L384 406.3L385 409L386 411.7L387 414.1L388 415.4L389 416.8L390 416.9L391 414.9L392 412.9L393 410.6L394 407.9L395 405.2L396 402.6L397 399.9L398 397.2L399 395.8L400 394.4L401 393.3L402 395.9L403 396.6L404 395.1L405 392L406 389.3L407 389.8L408 395L409 401.2L410 406.2L411 408.7L412 410.4L413 411.8L414 412.2L415 412.5L416 411.5L417 409L418 403.4L419 397.7L420 393L421 391.6L422 391.4L423 391.6L424 391.5L425 391.3L426 391.2L427 391.2L428 392L429 393.5L430 397.2L431 400.6L432 404L433 407L434 409.6L435 411.8L436 413.7L437 415L438 412.2L439 408.7L440 404.3L441 401.5L442 399.2L443 397.4L444 396L445 395.3L446 394.7L447 394.4L448 394.1L449 393.6L450 393.1L451 392.6L452 392L453 391L454 389.8L455 388.6L456 388.4L457 388.1L458 387.9L459 387.7L460 387.9L461 388.2L462 388.4L463 388.7L464 388.7L465 388.7L466 388.9L467 389.2L468 389.4L469 389.7L470 389.4L471 389.2L472 388.9L473 388.7L474 389.3L475 390.1L476 391.9L477 393.9L478 395.5L479 397L480 398.1L481 399.1L482 399.7L483 400.2L484 400L485 399.5L486 397.2L487 394.2L488 389.9L489 390.1L490 394.4L491 397.2L492 398.7L493 399.9L494 400.9L495 401.6L496 402.1L497 402.5L498 402.8L499 398.6L500 390.9L501 386.9L502 386.4L503 386.3L504 386.6L505 386.9L506 387.3L507 387.6L508 387.9L509 388.1L510 387.9L511 387.8L512 387.6L513 387.2L514 386.9L515 386.5L516 386L517 385.6L518 385.4L519 385.2L520 385.2L521 385.5L522 385.8L523 386.2L524 386.5L525 386.8L526 387.1L527 387L528 386.8L529 386.6L530 386.5L531 386.3L532 386.2L533 386.1L534 386.3L535 386.5L536 387.7L537 391.2L538 394.5L539 397.5L540 399.3L541 399.8L542 400.4L543 400.4L544 400.2L545 400L546 397.4L547 393.9L548 390L549 389L550 388.5L551 388.3L552 388L553 387.8L554 387.7L555 388.3L556 389L557 390.3L558 393.3L559 396.7L560 400.7L561 404L562 406.5L563 407.4L564 406.9L565 404.8L566 401.8L567 398.1L568 394.1L569 390.9L570 387.9L571 387.4L572 387.3L573 387.2L574 387.5L575 387.9L576 388.2L577 388.8L578 390.5L579 392.2L580 393.6L581 394.6L582 395.6L583 396.6L584 397.6L585 398.6L586 399.2L587 399.6L588 399.9L589 400.2L590 400.6L591 400.9L592 401.8L593 402.8L594 404.7L595 406.7L596 406.2L597 405.6L598 405L599 404.3L600 403.4L601 401.9L602 399.2L603 395.2L604 392.7L605 391.2L606 390.9L607 390.6L608 390.7L609 391.2L610 392.4L611 393.9L612 397L613 400.5L614 403.1L615 405.6L616 407.2L617 408.5L618 407.5L619 406.3L620 403.3L621 400.1L622 396.1L623 392.7L624 390.7L625 389.3L626 388.7L627 388.2L628 388.2L629 388.8L630 389.3L631 389.9L632 390.6L633 391.2L634 391.5L635 391.6L636 391.8L637 391.6L638 391.5L639 391.2L640 387.8L641 389.8L642 392.7L643 396.7L644 400.7L645 404.4L646 407.4L647 409.7L648 411.7L649 413.7L650 416.9L651 420.9L652 424.9L653 429.3L654 434.3L655 446.5L656 471L657 482.8L658 486.1L659 479.6L660 469.4L661 462.9L662 454.7L663 444.7L664 431.7L665 418.6L666 421.3L667 425.7L668 430.7L669 435.7L670 440.4L671 444.4L672 447.5L673 449.9L674 450L675 446.9L676 442.9L677 439.8L678 436.8L679 433.8L680 426L681 416.7L682 406.7L683 400.8L684 399.5L685 400.1L686 402.5L687 403.5L688 404.5L689 405.5L690 406.5L691 408.8L692 411.3L693 413.8L694 416.3L695 418.8L696 421.3L697 423.8L698 426.3L699 429.3L700 432.7L701 436.7L702 436.3L703 434.5L704 430.8L705 427L706 422.9L707 416.9L708 411.2L709 405.8L710 403.3L711 402.5L712 403.8L713 405L714 406.2L715 407.2L716 408.2L717 408.9L718 408.4L719 407.6L720 406.6L721 405.6L722 404.8L723 404.3L724 403.8L725 403.5L726 403.5L727 403.5L728 403.3L729 402.6L730 401.8L731 401.1L732 400.6L733 400.1L734 399.6L735 398.8L736 398.5L737 398.1L738 397.9L739 398.3L740 400.2L741 402L742 425L743 444L744 460.1L745 477.7L746 492.5L747 504.7L748 514.4L749 522.3L750 527L751 521.5L752 505L753 485L754 469.3L755 458L756 451.5L757 445L758 441.5L759 438L760 435L761 432L762 430.2L763 428.4L764 427.5L765 426.9L766 426.3L767 425.7L768 425L769 423.4L770 421.8L771 420.2L772 418.6L773 417.1L774 415.7L775 414.3L776 412.9L777 411.5L778 410L779 408.4L780 406.8L781 405.2L782 403.6L783 402.6L784 401.6L785 400.6L786 399.6L787 398.7L788 398.1L789 397.5L790 396.9L791 396.3L792 395.7L793 395.1L794 394.5L795 393.9L796 393.3L797 392.5L798 391.8L799 391L800 390.3L801 389.8L802 389.4L803 389.4L804 389.4L805 389.3L806 389.1L807 389.1L808 389.3L809 389.7L810 390.2L811 390.2L812 389.9L813 391L814 392.2L815 393L816 393.9L817 394.5L818 394L819 393.5L820 393.1L821 392.8L822 392.6L823 392.3L824 392.1L825 391.8L826 391.6L827 391.3L828 391.2L829 391.1L830 390.9L831 390.8L832 390.8L833 390.8L834 390.8L835 390.8L836 391.5L837 394.5L838 396.8L839 398.8L840 400.8L841 402.8L842 404.8L843 406L844 406.1L845 403.1L846 400.7L847 398.7L848 397L849 396L850 395L851 394.1L852 396.1L853 398.1L854 400.1L855 402.1L856 404.1L857 406.1L858 408.1L859 410.9L860 413.2L861 415.6L862 411.4L863 408.2L864 404.7L865 402.7L866 400.7L867 399.3L868 397.9L869 396.6L870 395.3L871 393.9L872 392.6L873 391.3L874 390.1L875 389.1L876 388.2L877 387.6L878 386.9L879 386.8L880 386.8L881 386.8L882 387.4L883 388.4L884 389.7L885 391.7L886 402.7L887 423.4L888 449L889 463.7L890 466.3L891 469.3L892 471.3L893 472.9L894 473.5L895 471L896 428.7L897 413.1L898 407.5L899 403.3L900 399.6L901 396.6L902 394.7L903 393.4L904 392.2L905 391.4L906 390.7L907 390L908 389.5L909 389L910 388.5L911 388.3L912 388.1L913 388L914 387.8L915 387.7L916 387.6L917 387.6L918 387.6L919 387.6L920 387.6L921 387.4L922 387.4L923 387.6L924 387.5L925 387.3L926 387.2L927 386.9L928 386.6L929 386.4L930 386.3L931 386.2L932 386.1L933 386.1L934 386.1L935 386.1L936 386.3L937 386.4L938 386.6L939 387.5L940 388.8L941 389.4L942 389.7L943 390.1L944 390.3L945 390.6L946 390.8L947 391.1L948 390.3L949 388.8L950 387.9L951 387.4L952 386.9L953 386.5L954 386.1L955 385.8L956 385.5L957 385.4L958 385.2L959 385.1L960 385.2L961 385.2L962 385.3L963 385.4L964 385.6L965 385.8L966 385.9L967 386L968 386.1L969 386.2L970 386.3L971 386.5L972 386.6L973 386.4L974 386.3L975 386.2L976 386.3L977 386.5L978 386.7L979 387.6L980 388.4L981 389.2L982 389.9L983 390.5L984 391.2L985 391.7L986 392.2L987 391.2L988 390.2L989 389.6L990 388.9L991 388.2L992 388.2L993 388.2L994 388.2L995 388.2L996 388.2L997 388.2L998 388.2L999 388.2L1000 388L1001 387.7L1002 387.4L1003 387.1L1004 386.7L1005 386.7L1006 386.8L1007 386.9L1008 387.7L1009 388.8L1010 389.4L1011 389.7L1012 390L1013 390.4L1014 390.8L1015 391.4L1016 396L1017 401.1L1018 406.4L1019 410.4L1020 414.4L1021 418.4L1022 421.8L1023 424.9L1024 426.9L1025 423L1026 417.5L1027 415.2L1028 414.2L1029 413.2L1030 412.2L1031 411.2L1032 410.2L1033 409.7L1034 410.7L1035 411.1L1036 408.9L1037 406.4L1038 404.1L1039 402.6L1040 401.1L1041 399.1L1042 397.1L1043 395.1L1044 392.6L1045 385.8L1046 389.1L1047 388.1L1048 387.2L1049 387.8L1050 388.2L1051 388.4L1052 388.7L1053 388.9L1054 389.1L1055 389.1L1056 389.1L1057 389.1L1058 389.1L1059 388.9L1060 388.5L1061 388.1L1062 387.7L1063 387.3L1064 387.1L1065 386.9L1066 386.7L1067 386.5L1068 386.6L1069 386.8L1070 387L1071 387.2L1072 387.5L1073 388.2L1074 388.8L1075 389.5L1076 390.1L1077 391.9L1078 393.9L1079 395.1L1080 395.8L1081 396.4L1082 397L1083 397.2L1084 397.5L1085 397.7L1086 398L1087 398.3L1088 398.6L1089 399L1090 399.8L1091 401.3L1092 403.5L1093 407.9L1094 410.9L1095 412.4L1096 411L1097 409.3L1098 406.9L1099 404.1L1100 402.2L1101 401.5L1102 400.9L1103 400.2L1104 399.9L1105 399.6L1106 399.2L1107 400.3L1108 401.8L1109 401.2L1110 398.7L1111 396.5L1112 395L1113 393.6L1114 393.2L1115 392.9L1116 392.6L1117 392.8L1118 393.3L1119 393.8L1120 394.3L1121 394.2L1122 392.4L1123 390.6L1124 402.5L1125 415.5L1126 424.9L1127 432L1128 436.1L1129 439.7L1130 441.7L1131 443.6L1132 442.8L1133 439.3L1134 429.7L1135 440.6L1136 468.4L1137 481.1L1138 484.8L1139 488L1140 491.1L1141 493.4L1142 488L1143 474L1144 460.1L1145 450.5L1146 445.4L1147 440.4L1148 435.3L1149 430.4L1150 426.4L1151 422.4L1152 418.4L1153 414.3L1154 411.3L1155 408.4L1156 405L1157.3 402L1157.3 384.1Z" fill="#f6876a"/><path d="M150 384.1L150 415.3L151 412.6L152 411.9L153 411.3L154 410.8L155 410.3L156 409.8L157 408.4L158 407.1L159 404.6L160 401.5L161 397.5L162 395L163 393.6L164 392.5L165 392.2L166 391.5L167 391.2L168 390.9L169 390.5L170 390.2L171 389.9L172 389.5L173 389.6L174 389.9L175 390.1L176 389.8L177 389.4L178 390.7L179 391.7L180 391.3L181 391L182 390.7L183 390.5L184 390.2L185 390.7L186 391.4L187 391.1L188 389.6L189 389L190 389L191 390.4L192 391.7L193 392.4L194 393L195 394.1L196 395.1L197 396.4L198 399L199 401.7L200 403.2L201 404.5L202 405.2L203 405.5L204 405.7L205 405.6L206 404.8L207 404.1L208 402.7L209 399.7L210 396.3L211 393.2L212 392.2L213 391.2L214 390.7L215 390.4L216 390.6L217 391.6L218 394.3L219 396.4L220 398.9L221 401.4L222 403.7L223 404.7L224 405.7L225 406.6L226 406.1L227 405.6L228 405.1L229 404.6L230 404.1L231 403.6L232 403L233 403.5L234 403.5L235 403.5L236 403.5L237 403.5L238 403.3L239 402.8L240 402.3L241 401.4L242 399.9L243 398.4L244 397L245 396L246 395L247 394.1L248 393.3L249 392.3L250 390.8L251 389.5L252 388.6L253 388.6L254 388.6L255 388.7L256 388.9L257 389.2L258 389.4L259 389.1L260 388.9L261 388.6L262 388.6L263 388.6L264 388.6L265 389L266 389.5L267 390L268 390.2L269 390.2L270 390.2L271 390.4L272 390.7L273 391.2L274 392.2L275 393.3L276 396L277 398.1L278 398.8L279 399.6L280 400.3L281 400.9L282 401.4L283 401.9L284 402.4L285 402.4L286 402.1L287 401.9L288 401.6L289 401.4L290 401.1L291 400.9L292 400.6L293 400.1L294 399.6L295 399.1L296 398.6L297 398.1L298 397.6L299 397.1L300 396.8L301 396.5L302 396.3L303 396L304 396.2L305 396.5L306 396.7L307 397L308 397.5L309 398L310 398.5L311 399.2L312 400.2L313 401.2L314 402.2L315 403.2L316 404.2L317 405.2L318 406.2L319 407.2L320 408.2L321 409.2L322 410.2L323 410.8L324 411.5L325 411.5L326 409.5L327 407.2L328 404.5L329 401.9L330 399.6L331 397.6L332 395.6L333 394.6L334 393.9L335 393.2L336 392.6L337 391.9L338 391.3L339 392L340 392.7L341 393.3L342 393.8L343 394.3L344 394.8L345 395.3L346 395.8L347 396.3L348 396.8L349 396.6L350 396.1L351 395.6L352 395.1L353 394.6L354 394.1L355 393.6L356 393.1L357 392.6L358 392.1L359 391.6L360 391.2L361 390.9L362 390.7L363 390.4L364 390.2L365 389.9L366 389.7L367 389.4L368 389.6L369 389.9L370 390.1L371 390.3L372 390.3L373 390.3L374 390.3L375 390.4L376 390.7L377 390.9L378 391.2L379 392.1L380 393.5L381 394.8L382 397.2L383 399.9L384 402.6L385 404.6L386 406.6L387 408.2L388 408.2L389 408.2L390 407.8L391 406.4L392 405.1L393 403.8L394 402.4L395 401.1L396 399.3L397 397.3L398 395.3L399 394.2L400 393.2L401 392.3L402 394.3L403 394.9L404 394.3L405 391.3L406 388.5L407 389L408 394.2L409 400.6L410 405L411 406.3L412 406.9L413 406.9L414 406.9L415 406.8L416 406.6L417 405.4L418 401.4L419 396.9L420 392.2L421 390.8L422 390.6L423 390.8L424 390.7L425 390.5L426 390.4L427 390.4L428 391.2L429 392.7L430 396.7L431 399.4L432 401.4L433 403.1L434 404.6L435 405.9L436 406.9L437 406.7L438 406.5L439 404.6L440 402.6L441 400L442 397.9L443 396.8L444 395.2L445 394.5L446 393.9L447 393.6L448 393.3L449 392.8L450 392.3L451 391.8L452 391.2L453 390.2L454 389L455 387.8L456 387.6L457 387.3L458 387.1L459 386.9L460 387.1L461 387.4L462 387.6L463 387.9L464 387.9L465 387.9L466 388.1L467 388.4L468 388.6L469 388.9L470 388.6L471 388.4L472 388.1L473 387.9L474 388.5L475 389.3L476 391.1L477 393.1L478 394.7L479 396.2L480 397.3L481 398.3L482 398.9L483 399.4L484 399.2L485 398.7L486 396.4L487 393.4L488 389.1L489 389.3L490 393.6L491 396.4L492 397.9L493 399.1L494 400.1L495 400.8L496 401.3L497 401.7L498 402L499 397.8L500 390.1L501 386.9L502 386.4L503 386.3L504 386.6L505 386.9L506 386.5L507 386.8L508 387.1L509 387.3L510 387.1L511 387L512 386.8L513 386.4L514 386.9L515 386.5L516 386L517 385.6L518 385.4L519 385.2L520 385.2L521 385.5L522 385.8L523 386.2L524 386.5L525 386.8L526 386.3L527 387L528 386.8L529 386.6L530 386.5L531 386.3L532 386.2L533 386.1L534 386.3L535 386.5L536 386.9L537 390.4L538 393.7L539 396.7L540 398.5L541 398.9L542 399.3L543 399.3L544 399.2L545 399.1L546 396.6L547 393.1L548 389.2L549 388.2L550 387.7L551 387.5L552 387.2L553 387L554 386.9L555 387.5L556 388.2L557 389.5L558 392.5L559 395.9L560 399.9L561 402.9L562 405.2L563 406.1L564 405.8L565 404L566 401L567 397.3L568 393.3L569 390.1L570 387.1L571 386.6L572 386.5L573 386.4L574 386.7L575 387.1L576 387.4L577 388L578 389.7L579 391.4L580 392.8L581 393.8L582 394.8L583 395.8L584 396.8L585 397.8L586 398.4L587 398.8L588 399.1L589 399.4L590 399.8L591 400.1L592 401L593 402L594 403.9L595 405.7L596 405.2L597 404.7L598 404L599 403.4L600 402.6L601 401.1L602 398.4L603 394.4L604 391.9L605 390.4L606 390.1L607 389.8L608 389.9L609 390.4L610 391.6L611 393.1L612 396.2L613 399.7L614 402.3L615 404.7L616 405.9L617 407L618 406.3L619 405.4L620 402.5L621 399.3L622 395.3L623 391.9L624 389.9L625 388.5L626 387.9L627 387.4L628 387.4L629 388L630 388.5L631 389.1L632 389.8L633 390.4L634 390.7L635 390.8L636 391L637 390.8L638 390.7L639 390.4L640 387L641 389L642 391.9L643 395.3L644 398.7L645 402.2L646 405.7L647 407.7L648 409.2L649 410.7L650 412.2L651 413.7L652 415.2L653 417L654 419L655 421L656 422.6L657 423.6L658 420.1L659 415.1L660 410.1L661 406.3L662 403.3L663 400.3L664 399.3L665 400.3L666 401.3L667 402.5L668 404L669 405.5L670 406.9L671 407.9L672 408.9L673 409.7L674 408.2L675 406.7L676 405.2L677 403.2L678 401.2L679 399.2L680 397.2L681 395.2L682 394L683 393.6L684 393.5L685 395.3L686 397L687 398.8L688 400.3L689 401.8L690 403.3L691 403.9L692 404.4L693 404.9L694 405.4L695 405.9L696 406.4L697 406.4L698 405.9L699 405.4L700 404.9L701 404.4L702 403.9L703 403.2L704 402.2L705 401.2L706 400.1L707 398.6L708 397.1L709 395.7L710 396.2L711 396.7L712 397.2L713 398.1L714 399.1L715 400.1L716 400.6L717 400.8L718 401.1L719 400.7L720 399.9L721 399.2L722 398.6L723 398.1L724 397.6L725 397.2L726 397.2L727 397.2L728 397.1L729 396.6L730 396.1L731 395.6L732 395.1L733 394.6L734 394.1L735 393.2L736 393.2L737 393.3L738 393.6L739 393.9L740 394.9L741 397.6L742 400.2L743 402L744 402.7L745 403.5L746 404.2L747 404.7L748 405L749 405.4L750 402.4L751 399.7L752 397.9L753 397.6L754 397.4L755 397.1L756 396.9L757 396.9L758 396.9L759 396.9L760 396.9L761 396.7L762 396.6L763 396.5L764 396.3L765 396.1L766 395.9L767 395.7L768 395.5L769 395.2L770 394.9L771 394.6L772 394.3L773 394L774 393.6L775 393.2L776 392.8L777 392.4L778 391.8L779 391.2L780 390.6L781 390L782 389.4L783 389.3L784 389.2L785 389.1L786 389L787 388.9L788 388.7L789 388.5L790 388.3L791 388.1L792 387.9L793 387.8L794 387.7L795 387.6L796 387.5L797 387.4L798 387.3L799 387.2L800 387.1L801 387.1L802 387.8L803 388.4L804 388.8L805 388.5L806 388.3L807 388.3L808 388.5L809 388.9L810 389.4L811 389.4L812 389.1L813 390.2L814 391.4L815 392.2L816 393.1L817 393.7L818 393.2L819 392.7L820 392.3L821 392L822 391.8L823 391.5L824 391.3L825 391L826 390.8L827 390.5L828 390.4L829 390.3L830 390.1L831 390L832 390L833 390L834 390L835 390L836 390.7L837 393.7L838 396L839 398L840 400L841 402L842 404L843 405.2L844 405.3L845 402.3L846 399.9L847 397.9L848 396.2L849 395.2L850 394.2L851 393.3L852 395.3L853 397.3L854 399.3L855 401.3L856 403.1L857 404.6L858 406.1L859 407.6L860 408.9L861 409.7L862 407.4L863 405.1L864 403.6L865 401.9L866 399.9L867 398.5L868 397.1L869 395.8L870 394.5L871 393.1L872 391.8L873 390.5L874 389.3L875 388.3L876 387.4L877 386.8L878 386.9L879 386.8L880 386.8L881 386.8L882 386.6L883 387.6L884 388.9L885 390.9L886 394.1L887 396.8L888 399.2L889 400.7L890 402.2L891 403.6L892 404.3L893 405L894 404.7L895 404.1L896 403.1L897 401.1L898 399.1L899 397.1L900 395.1L901 393.6L902 392.9L903 392.1L904 391.4L905 390.6L906 389.9L907 389.2L908 388.7L909 388.2L910 387.7L911 387.5L912 387.3L913 387.2L914 387L915 386.9L916 386.8L917 386.8L918 386.8L919 386.8L920 386.8L921 386.6L922 386.6L923 386.8L924 386.7L925 386.5L926 386.4L927 386.9L928 386.6L929 386.4L930 386.3L931 386.2L932 386.1L933 386.1L934 386.1L935 386.1L936 386.3L937 386.4L938 386.6L939 386.7L940 388L941 388.6L942 388.9L943 389.3L944 389.5L945 389.8L946 390L947 390.3L948 389.5L949 388L950 387.1L951 386.6L952 386.9L953 386.5L954 386.1L955 385.8L956 385.5L957 385.4L958 385.2L959 385.1L960 385.2L961 385.2L962 385.3L963 385.4L964 385.6L965 385.8L966 385.9L967 386L968 386.1L969 386.2L970 386.3L971 386.5L972 386.6L973 386.4L974 386.3L975 386.2L976 386.3L977 386.5L978 386.7L979 386.8L980 387.6L981 388.4L982 389.1L983 389.7L984 390.4L985 390.9L986 391.4L987 390.4L988 389.4L989 388.8L990 388.1L991 387.4L992 387.4L993 387.4L994 387.4L995 387.4L996 387.4L997 387.4L998 387.4L999 387.4L1000 387.2L1001 386.9L1002 386.6L1003 386.3L1004 386.7L1005 386.7L1006 386.8L1007 386.9L1008 386.9L1009 388L1010 388.6L1011 388.9L1012 389.2L1013 389.6L1014 390L1015 390.6L1016 393.3L1017 396.6L1018 399.1L1019 400.6L1020 401.8L1021 402.8L1022 403.7L1023 404.5L1024 404.2L1025 402.6L1026 400.6L1027 399.1L1028 398.4L1029 397.8L1030 397.1L1031 396.6L1032 396.1L1033 395.7L1034 395.4L1035 395L1036 394.6L1037 394.1L1038 393.6L1039 393.1L1040 392.5L1041 391.8L1042 391.1L1043 390.5L1044 389.8L1045 385.3L1046 386L1047 386.6L1048 386.4L1049 387L1050 387.4L1051 387.6L1052 387.9L1053 388.1L1054 388.3L1055 388.3L1056 388.3L1057 388.3L1058 388.3L1059 388.1L1060 387.7L1061 387.3L1062 386.9L1063 386.5L1064 386.3L1065 386.5L1066 386.3L1067 386.1L1068 386.2L1069 386.4L1070 386.6L1071 386.4L1072 386.7L1073 387.4L1074 388L1075 388.7L1076 389.3L1077 391.1L1078 393L1079 393.9L1080 394.4L1081 394.9L1082 395.4L1083 395.9L1084 396.2L1085 396.5L1086 396.9L1087 397.2L1088 397.5L1089 397.9L1090 398.3L1091 399L1092 399.7L1093 400.2L1094 399.9L1095 399.6L1096 399.2L1097 398.9L1098 398.6L1099 398.2L1100 397.9L1101 397.6L1102 397.2L1103 396.9L1104 396.7L1105 396.6L1106 396.4L1107 396.2L1108 396.1L1109 395.9L1110 395.7L1111 395.3L1112 394.2L1113 392.8L1114 392.4L1115 392.1L1116 391.8L1117 392L1118 392.5L1119 393L1120 393.5L1121 393.4L1122 391.6L1123 389.5L1124 395.2L1125 398.5L1126 399.5L1127 400.5L1128 401L1129 400.3L1130 399.7L1131 398.9L1132 396.8L1133 394.8L1134 395.3L1135 395.8L1136 396.5L1137 397.1L1138 397.8L1139 397.5L1140 396.7L1141 395.9L1142 395.2L1143 394.4L1144 393.7L1145 393L1146 392.3L1147 391.6L1148 391.1L1149 390.5L1150 390L1151 389.5L1152 389.3L1153 389.1L1154 389L1155 388.8L1156 388.6L1157.3 388.3L1157.3 384.1Z" fill="#fbbb7e"/></g>
<g><line x1="99.5" x2="1207.5" y1="558.75" y2="558.75" stroke="#dedede" stroke-opacity="0.75" stroke-width="1.3"/><line x1="99.5" x2="1207.5" y1="536.91" y2="536.91" stroke="#e2e2e2" stroke-opacity="0.7" stroke-width="1.1"/><line x1="99.5" x2="1207.5" y1="515.08" y2="515.08" stroke="#e2e2e2" stroke-opacity="0.7" stroke-width="1.1"/><line x1="99.5" x2="1207.5" y1="493.24" y2="493.24" stroke="#e2e2e2" stroke-opacity="0.7" stroke-width="1.1"/><line x1="99.5" x2="1207.5" y1="471.40" y2="471.40" stroke="#dedede" stroke-opacity="0.75" stroke-width="1.3"/><line x1="99.5" x2="1207.5" y1="449.56" y2="449.56" stroke="#e2e2e2" stroke-opacity="0.7" stroke-width="1.1"/><line x1="99.5" x2="1207.5" y1="427.73" y2="427.73" stroke="#e2e2e2" stroke-opacity="0.7" stroke-width="1.1"/><line x1="99.5" x2="1207.5" y1="405.89" y2="405.89" stroke="#e2e2e2" stroke-opacity="0.7" stroke-width="1.1"/><line x1="99.5" x2="1207.5" y1="384.05" y2="384.05" stroke="#dedede" stroke-opacity="0.75" stroke-width="1.3"/><line x1="99.5" x2="1207.5" y1="362.21" y2="362.21" stroke="#e2e2e2" stroke-opacity="0.7" stroke-width="1.1"/><line x1="99.5" x2="1207.5" y1="340.38" y2="340.38" stroke="#e2e2e2" stroke-opacity="0.7" stroke-width="1.1"/><line x1="99.5" x2="1207.5" y1="318.54" y2="318.54" stroke="#e2e2e2" stroke-opacity="0.7" stroke-width="1.1"/><line x1="99.5" x2="1207.5" y1="296.70" y2="296.70" stroke="#dedede" stroke-opacity="0.75" stroke-width="1.3"/><line x1="99.5" x2="1207.5" y1="274.86" y2="274.86" stroke="#e2e2e2" stroke-opacity="0.7" stroke-width="1.1"/><line x1="99.5" x2="1207.5" y1="253.03" y2="253.03" stroke="#e2e2e2" stroke-opacity="0.7" stroke-width="1.1"/><line x1="99.5" x2="1207.5" y1="231.19" y2="231.19" stroke="#e2e2e2" stroke-opacity="0.7" stroke-width="1.1"/><line x1="99.5" x2="1207.5" y1="209.35" y2="209.35" stroke="#dedede" stroke-opacity="0.75" stroke-width="1.3"/><line x1="99.5" x2="1207.5" y1="187.51" y2="187.51" stroke="#e2e2e2" stroke-opacity="0.7" stroke-width="1.1"/><line x1="99.5" x2="1207.5" y1="165.68" y2="165.68" stroke="#e2e2e2" stroke-opacity="0.7" stroke-width="1.1"/><line x1="99.5" x2="1207.5" y1="143.84" y2="143.84" stroke="#e2e2e2" stroke-opacity="0.7" stroke-width="1.1"/><line x1="99.5" x2="1207.5" y1="122.00" y2="122.00" stroke="#dedede" stroke-opacity="0.75" stroke-width="1.3"/><line x1="99.5" x2="1207.5" y1="100.16" y2="100.16" stroke="#e2e2e2" stroke-opacity="0.7" stroke-width="1.1"/><line x1="99.5" x2="1207.5" y1="78.33" y2="78.33" stroke="#e2e2e2" stroke-opacity="0.7" stroke-width="1.1"/><line x1="99.5" x2="1207.5" y1="56.49" y2="56.49" stroke="#e2e2e2" stroke-opacity="0.7" stroke-width="1.1"/></g>
<rect x="99.5" y="49.5" width="1108.0" height="515.5" fill="none" stroke="#dcdcdc" stroke-width="1.2"/>
<line x1="94.5" x2="99.5" y1="558.75" y2="558.75" stroke="#d6d6d6" stroke-width="1.1"/><line x1="96.9" x2="99.5" y1="536.91" y2="536.91" stroke="#d6d6d6" stroke-width="1.1"/><line x1="96.9" x2="99.5" y1="515.08" y2="515.08" stroke="#d6d6d6" stroke-width="1.1"/><line x1="96.9" x2="99.5" y1="493.24" y2="493.24" stroke="#d6d6d6" stroke-width="1.1"/><line x1="94.5" x2="99.5" y1="471.40" y2="471.40" stroke="#d6d6d6" stroke-width="1.1"/><line x1="96.9" x2="99.5" y1="449.56" y2="449.56" stroke="#d6d6d6" stroke-width="1.1"/><line x1="96.9" x2="99.5" y1="427.73" y2="427.73" stroke="#d6d6d6" stroke-width="1.1"/><line x1="96.9" x2="99.5" y1="405.89" y2="405.89" stroke="#d6d6d6" stroke-width="1.1"/><line x1="94.5" x2="99.5" y1="384.05" y2="384.05" stroke="#d6d6d6" stroke-width="1.1"/><line x1="96.9" x2="99.5" y1="362.21" y2="362.21" stroke="#d6d6d6" stroke-width="1.1"/><line x1="96.9" x2="99.5" y1="340.38" y2="340.38" stroke="#d6d6d6" stroke-width="1.1"/><line x1="96.9" x2="99.5" y1="318.54" y2="318.54" stroke="#d6d6d6" stroke-width="1.1"/><line x1="94.5" x2="99.5" y1="296.70" y2="296.70" stroke="#d6d6d6" stroke-width="1.1"/><line x1="96.9" x2="99.5" y1="274.86" y2="274.86" stroke="#d6d6d6" stroke-width="1.1"/><line x1="96.9" x2="99.5" y1="253.03" y2="253.03" stroke="#d6d6d6" stroke-width="1.1"/><line x1="96.9" x2="99.5" y1="231.19" y2="231.19" stroke="#d6d6d6" stroke-width="1.1"/><line x1="94.5" x2="99.5" y1="209.35" y2="209.35" stroke="#d6d6d6" stroke-width="1.1"/><line x1="96.9" x2="99.5" y1="187.51" y2="187.51" stroke="#d6d6d6" stroke-width="1.1"/><line x1="96.9" x2="99.5" y1="165.68" y2="165.68" stroke="#d6d6d6" stroke-width="1.1"/><line x1="96.9" x2="99.5" y1="143.84" y2="143.84" stroke="#d6d6d6" stroke-width="1.1"/><line x1="94.5" x2="99.5" y1="122.00" y2="122.00" stroke="#d6d6d6" stroke-width="1.1"/><line x1="96.9" x2="99.5" y1="100.16" y2="100.16" stroke="#d6d6d6" stroke-width="1.1"/><line x1="96.9" x2="99.5" y1="78.33" y2="78.33" stroke="#d6d6d6" stroke-width="1.1"/><line x1="96.9" x2="99.5" y1="56.49" y2="56.49" stroke="#d6d6d6" stroke-width="1.1"/>
<line x1="1207.5" x2="1210.5" y1="561.19" y2="561.19" stroke="#d6d6d6" stroke-width="1.1"/><line x1="1207.5" x2="1210.5" y1="548.83" y2="548.83" stroke="#d6d6d6" stroke-width="1.1"/><line x1="1207.5" x2="1210.5" y1="538.38" y2="538.38" stroke="#d6d6d6" stroke-width="1.1"/><line x1="1207.5" x2="1210.5" y1="529.33" y2="529.33" stroke="#d6d6d6" stroke-width="1.1"/><line x1="1207.5" x2="1210.5" y1="521.34" y2="521.34" stroke="#d6d6d6" stroke-width="1.1"/><line x1="1207.5" x2="1212.7" y1="514.20" y2="514.20" stroke="#d6d6d6" stroke-width="1.1"/><line x1="1207.5" x2="1210.5" y1="467.21" y2="467.21" stroke="#d6d6d6" stroke-width="1.1"/><line x1="1207.5" x2="1210.5" y1="439.72" y2="439.72" stroke="#d6d6d6" stroke-width="1.1"/><line x1="1207.5" x2="1210.5" y1="420.22" y2="420.22" stroke="#d6d6d6" stroke-width="1.1"/><line x1="1207.5" x2="1210.5" y1="405.09" y2="405.09" stroke="#d6d6d6" stroke-width="1.1"/><line x1="1207.5" x2="1210.5" y1="392.73" y2="392.73" stroke="#d6d6d6" stroke-width="1.1"/><line x1="1207.5" x2="1210.5" y1="382.28" y2="382.28" stroke="#d6d6d6" stroke-width="1.1"/><line x1="1207.5" x2="1210.5" y1="373.23" y2="373.23" stroke="#d6d6d6" stroke-width="1.1"/><line x1="1207.5" x2="1210.5" y1="365.24" y2="365.24" stroke="#d6d6d6" stroke-width="1.1"/><line x1="1207.5" x2="1212.7" y1="358.10" y2="358.10" stroke="#d6d6d6" stroke-width="1.1"/><line x1="1207.5" x2="1210.5" y1="311.11" y2="311.11" stroke="#d6d6d6" stroke-width="1.1"/><line x1="1207.5" x2="1210.5" y1="283.62" y2="283.62" stroke="#d6d6d6" stroke-width="1.1"/><line x1="1207.5" x2="1210.5" y1="264.12" y2="264.12" stroke="#d6d6d6" stroke-width="1.1"/><line x1="1207.5" x2="1210.5" y1="248.99" y2="248.99" stroke="#d6d6d6" stroke-width="1.1"/><line x1="1207.5" x2="1210.5" y1="236.63" y2="236.63" stroke="#d6d6d6" stroke-width="1.1"/><line x1="1207.5" x2="1210.5" y1="226.18" y2="226.18" stroke="#d6d6d6" stroke-width="1.1"/><line x1="1207.5" x2="1210.5" y1="217.13" y2="217.13" stroke="#d6d6d6" stroke-width="1.1"/><line x1="1207.5" x2="1210.5" y1="209.14" y2="209.14" stroke="#d6d6d6" stroke-width="1.1"/><line x1="1207.5" x2="1212.7" y1="202.00" y2="202.00" stroke="#d6d6d6" stroke-width="1.1"/><line x1="1207.5" x2="1210.5" y1="155.01" y2="155.01" stroke="#d6d6d6" stroke-width="1.1"/><line x1="1207.5" x2="1210.5" y1="127.52" y2="127.52" stroke="#d6d6d6" stroke-width="1.1"/><line x1="1207.5" x2="1210.5" y1="108.02" y2="108.02" stroke="#d6d6d6" stroke-width="1.1"/><line x1="1207.5" x2="1210.5" y1="92.89" y2="92.89" stroke="#d6d6d6" stroke-width="1.1"/><line x1="1207.5" x2="1210.5" y1="80.53" y2="80.53" stroke="#d6d6d6" stroke-width="1.1"/><line x1="1207.5" x2="1210.5" y1="70.08" y2="70.08" stroke="#d6d6d6" stroke-width="1.1"/><line x1="1207.5" x2="1210.5" y1="61.03" y2="61.03" stroke="#d6d6d6" stroke-width="1.1"/><line x1="1207.5" x2="1210.5" y1="53.04" y2="53.04" stroke="#d6d6d6" stroke-width="1.1"/>
<line x1="205.20" x2="205.20" y1="565.0" y2="570.3" stroke="#d6d6d6" stroke-width="1.1"/><text x="205.20" y="591.7" text-anchor="middle" class="tk">2014</text><line x1="315.13" x2="315.13" y1="565.0" y2="570.3" stroke="#d6d6d6" stroke-width="1.1"/><text x="315.13" y="591.7" text-anchor="middle" class="tk">2015</text><line x1="425.07" x2="425.07" y1="565.0" y2="570.3" stroke="#d6d6d6" stroke-width="1.1"/><text x="425.07" y="591.7" text-anchor="middle" class="tk">2016</text><line x1="535.30" x2="535.30" y1="565.0" y2="570.3" stroke="#d6d6d6" stroke-width="1.1"/><text x="535.30" y="591.7" text-anchor="middle" class="tk">2017</text><line x1="645.24" x2="645.24" y1="565.0" y2="570.3" stroke="#d6d6d6" stroke-width="1.1"/><text x="645.24" y="591.7" text-anchor="middle" class="tk">2018</text><line x1="755.17" x2="755.17" y1="565.0" y2="570.3" stroke="#d6d6d6" stroke-width="1.1"/><text x="755.17" y="591.7" text-anchor="middle" class="tk">2019</text><line x1="865.11" x2="865.11" y1="565.0" y2="570.3" stroke="#d6d6d6" stroke-width="1.1"/><text x="865.11" y="591.7" text-anchor="middle" class="tk">2020</text><line x1="975.34" x2="975.34" y1="565.0" y2="570.3" stroke="#d6d6d6" stroke-width="1.1"/><text x="975.34" y="591.7" text-anchor="middle" class="tk">2021</text><line x1="1085.28" x2="1085.28" y1="565.0" y2="570.3" stroke="#d6d6d6" stroke-width="1.1"/><text x="1085.28" y="591.7" text-anchor="middle" class="tk">2022</text><line x1="1195.21" x2="1195.21" y1="565.0" y2="570.3" stroke="#d6d6d6" stroke-width="1.1"/><text x="1195.21" y="591.7" text-anchor="middle" class="tk">2023</text>
<text x="88" y="566.5" text-anchor="end" class="tk">−0.4</text><text x="88" y="479.1" text-anchor="end" class="tk">−0.2</text><text x="88" y="391.8" text-anchor="end" class="tk">0.0</text><text x="88" y="304.4" text-anchor="end" class="tk">0.2</text><text x="88" y="217.0" text-anchor="end" class="tk">0.4</text><text x="88" y="129.7" text-anchor="end" class="tk">0.6</text>
<text x="1218.5" y="521.9" class="tk">$100</text><text x="1218.5" y="365.8" class="tk">$1k</text><text x="1218.5" y="209.7" class="tk">$10k</text>
<g opacity="0.5"><text y="346.3" class="wm"><tspan x="382.4" textLength="76.7" lengthAdjust="spacingAndGlyphs">g</tspan><tspan x="455.5" textLength="29.5" lengthAdjust="spacingAndGlyphs">l</tspan><tspan x="482.9" textLength="64.7" lengthAdjust="spacingAndGlyphs">a</tspan><tspan x="555.1" textLength="53.8" lengthAdjust="spacingAndGlyphs">s</tspan><tspan x="605.5" textLength="53.8" lengthAdjust="spacingAndGlyphs">s</tspan><tspan x="654.2" textLength="67.3" lengthAdjust="spacingAndGlyphs">n</tspan><tspan x="717.7" textLength="74.8" lengthAdjust="spacingAndGlyphs">o</tspan><tspan x="785.5" textLength="77.0" lengthAdjust="spacingAndGlyphs">d</tspan><tspan x="858.1" textLength="71.1" lengthAdjust="spacingAndGlyphs">e</tspan></text></g>
<path d="M149.8 522.8L150.2 524.5L150.5 526.2L151 534.2L151.6 541.7L151.9 535.5L152.2 529.7L152.8 524.6L153.3 521L153.6 519.8L154 519.3L154.5 521.1L155 524.5L155.4 524L155.8 524.5L156.2 522.8L156.6 520.9L157 519.4L157.4 518.4L157.9 518.3L158.3 517.6L158.8 516.7L159.3 516L159.7 514.2L160.2 514.1L160.6 514.7L161 515.9L161.4 515.9L161.8 515.6L162.2 517.6L162.7 515.5L163.1 514.1L163.5 511.4L163.9 510.7L164.3 510.7L164.8 507.8L165.3 508.1L165.7 507L166.1 505.3L166.6 505.5L167 503.2L167.4 500.3L167.8 498.3L168.3 496L168.7 497.2L169.1 498.6L169.6 498.2L170 502.1L170.4 500.3L170.9 499.5L171.3 499.2L171.7 499.1L172.2 497.5L172.6 498.6L173 498.4L173.4 498.2L173.9 498.6L174.3 499.5L174.7 500.2L175.2 498.4L175.6 498.8L176 498.6L176.5 499.9L177 499.3L177.4 500.3L177.8 505.9L178.1 511.6L178.4 506L178.8 500.3L179.3 500.1L179.8 498.7L180.3 499.5L180.8 497.4L181.2 495.2L181.6 494.6L182.1 491.7L182.5 486.1L182.9 483.1L183.4 479.5L183.8 474.5L184.3 467.6L184.7 467.1L185.1 465.9L185.5 465.9L185.9 468L186.4 466.7L186.8 465.2L187.2 462.4L187.7 457.1L188.1 453.8L188.5 448.7L189 443.4L189.5 433.1L189.9 428.4L190.3 422.8L190.8 415.7L191.2 409L191.6 400.9L192.1 391.7L192.5 387.4L192.9 383.1L193.4 378.5L193.8 372.8L194.2 368.8L194.7 362.4L195.2 350.3L195.5 349.3L195.9 349.5L196.2 350.9L196.6 352.1L196.9 360.7L197.2 357.2L197.6 365.9L198.1 381.4L198.6 362.4L199 366.3L199.3 371L199.7 377.2L200 383.1L200.3 387.3L200.7 393.4L201 402.1L201.6 391.7L202 387.8L202.4 384.8L202.8 382.9L203.3 381.4L203.7 380.4L204.1 377.9L204.6 376.3L205 372.8L205.4 369L205.9 367.6L206.3 365.6L206.7 365L207.2 366.8L207.6 367.6L208 367.2L208.4 370.2L208.9 370.2L209.3 371L209.7 371.4L210.2 371.9L210.6 373.4L211 372.8L211.5 373.8L211.9 373.6L212.3 373.8L212.8 374.5L213.2 373.3L213.6 372.8L214.1 372.1L214.5 371.9L214.9 374.5L215.3 374.5L215.8 376.7L216.2 379.7L216.6 381.1L217.1 383.1L217.5 385.1L217.9 386.6L218.4 388.2L218.8 390L219.2 391.6L219.7 393.4L220.1 394.2L220.5 396.9L220.9 397.7L221.4 398.6L221.8 396.5L222.2 395.2L222.7 394.4L223.1 391.7L223.5 388.8L224 384.8L224.4 385.7L224.8 386.6L225.3 388L225.7 388.3L226.1 388.8L226.6 390L227 391.8L227.4 391.7L227.8 392.6L228.3 393.4L228.7 395.7L229.1 396.9L229.6 396.7L230 398.6L230.4 402.4L230.9 405.5L231.3 405.8L231.7 409L232.2 408.1L232.6 410.7L233 412.2L233.4 414.1L233.9 414.2L234.3 415.9L234.8 424.5L235.2 418.6L235.5 412.4L236 409.1L236.6 402.1L237 402.2L237.4 403.8L237.8 405L238.3 407.2L238.7 408.3L239.1 409L239.6 410.2L240 410.7L240.4 411.1L240.8 411.7L241.2 412.4L241.6 413.6L242 414L242.4 414.1L242.9 413L243.3 413.5L243.8 413.3L244.3 413L244.7 411.8L245.2 412.4L245.6 411.5L246 409.4L246.4 409L246.8 408.1L247.2 405.5L247.7 404L248.1 402.1L248.5 399.6L249 396.9L249.4 393.8L249.8 391.7L250.3 389.9L250.7 388.3L251.1 385.3L251.6 385.7L252 385.2L252.4 386.6L252.8 388.6L253.3 390L253.7 389.9L254.1 393.4L254.6 395L255 395.2L255.4 392.8L255.9 393.4L256.3 395L256.7 395.2L257.2 395.3L257.6 396.9L258 395.8L258.4 393.4L258.9 391.4L259.3 389.1L259.7 387.4L260.2 388.3L260.6 389.8L261 389.1L261.5 390.8L261.9 390L262.3 389.9L262.8 390L263.2 389.8L263.6 390L264.1 390.3L264.5 390.9L264.9 389.6L265.3 390L265.8 391.4L266.2 390.9L266.6 390.8L267.1 391.7L267.5 392.1L267.9 392.6L268.4 392.3L268.8 393.4L269.2 393.8L269.7 395.2L270.1 393.7L270.5 394.3L270.9 395.8L271.4 395.2L271.8 396.8L272.2 398.6L272.7 401.2L273.1 402.1L273.5 404.7L274 407.2L274.4 405.8L274.8 405.5L275.3 404.4L275.7 403.8L276.1 404.2L276.6 405.5L277 406L277.4 406.4L277.8 406.5L278.3 407.2L278.7 407.4L279.1 408.1L279.4 406.6L279.7 407.4L280.2 407L280.7 409.4L281.3 408.2L281.8 408.7L282.3 409.4L282.8 411.3L283.2 413.2L283.6 414.5L284 417.2L284.4 417.6L284.8 417.9L285.2 420.8L285.6 420.6L286 420.8L286.4 421.8L286.8 423.9L287.1 424L287.5 427L287.9 429.2L288.3 430.2L288.7 430.9L289.1 431.7L289.5 429.4L289.9 427L290.3 424.8L290.7 423.9L291.1 422.7L291.5 420.8L291.8 420.7L292.2 421.5L292.6 422.6L293 423.9L293.4 424.5L293.8 427L294.2 427.6L294.6 430.2L295 432.1L295.4 431.7L295.8 432.1L296.2 433.3L296.6 432.8L296.9 431.7L297.3 430.9L297.7 430.2L298.1 428.2L298.5 427L298.9 424.2L299.3 422.3L299.7 420.1L300.1 416.8L300.5 418.5L300.9 420.8L301.3 423L301.6 425.5L302 426.3L302.4 427L302.8 427.2L303.2 425.5L303.6 425.2L304 423.9L304.4 425L304.8 425.5L305.2 424.6L305.6 424.7L306 423.9L306.3 425.5L306.7 427L307.1 427L307.5 429.4L307.9 430.2L308.3 430.8L308.7 431.7L309.1 431.4L309.5 430.2L309.9 432.4L310.3 433.3L310.7 434.8L311.1 434.9L311.4 435.3L311.8 434.1L312.2 434.1L312.6 434.9L313 436.9L313.4 436.4L313.8 436.2L314.2 438L314.6 439.5L315 439.6L315.4 440.8L315.8 441.1L316.1 443.4L316.5 444.3L316.9 447.4L317.3 447.4L317.7 449.4L318.1 449L318.5 448.8L318.9 450.5L319.4 478.7L319.7 471.8L320 467.8L320.4 465.3L320.8 461.5L321.2 459.1L321.6 458.4L322 453.7L322.4 449.7L322.8 445.8L323.2 448.1L323.6 449L324 451.5L324.4 456.8L324.8 456.6L325.2 459.9L325.5 460.9L325.9 461.5L326.3 461.2L326.7 460.7L327.1 458.6L327.5 456.8L327.9 454.5L328.3 452.1L328.7 450.6L329.1 450.5L329.5 450L329.9 452.1L330.3 451.2L330.6 450.5L331 448.9L331.4 449L331.8 446L332.2 445.8L332.6 445.5L333 444.3L333.4 443.4L333.8 442.7L334.2 442.6L334.6 441.9L335 440.7L335.3 441.1L335.7 440.2L336.1 440.3L336.5 439.9L336.9 441.1L337.3 440.8L337.7 441.9L338.1 443.3L338.5 444.3L338.9 445.2L339.3 447.4L339.7 448.9L340 449.7L340.4 450.8L340.8 451.3L341.2 452.6L341.6 450.5L342 448.6L342.4 449L342.8 450.5L343.2 450.5L343.6 451.2L344 452.1L344.4 452.9L344.7 453.7L345.1 454L345.5 456.8L345.9 458L346.3 459.9L346.7 459.8L347.1 458.4L347.5 459.1L347.9 459.9L348.3 459.2L348.7 458.4L349.1 457.3L349.5 456.8L349.8 458.2L350.2 457.6L350.6 457.2L351 456.8L351.4 454.5L351.8 456L352.2 455L352.6 455.2L353 453.6L353.4 455.2L353.8 452.9L354.2 456L354.5 455.2L354.9 455.2L355.3 456.8L355.7 456L356.1 456.5L356.5 456.8L356.9 455.4L357.3 456L357.7 455.6L358.1 456.8L358.5 458.2L358.9 457.6L359.2 458.1L359.6 458.4L360 458.4L360.4 458.4L360.8 458.7L361.2 459.2L361.6 459.2L362 459.2L362.4 459.1L362.8 457.6L363.2 457.7L363.6 456.8L363.9 456.2L364.3 455.2L364.7 454L365.1 454.5L365.5 453.7L365.9 452.1L366.3 452.3L366.7 453.7L367.1 454.2L367.5 452.9L367.9 451L368.3 451.3L368.7 450L369 449L369.4 448.6L369.8 448.2L370.2 446.3L370.6 446.6L371 447.3L371.4 445L371.8 445.1L372.2 442.7L372.6 440L373 438L373.4 441L373.7 442.7L374.1 443.8L374.5 444.3L375 441L375.5 442.4L376 441.1L376.4 440.2L376.9 440.5L377.3 439.7L377.7 440.6L378.2 441L378.6 441.7L379 443.8L379.5 443.9L379.9 444.5L380.3 445.3L380.8 447.5L381.2 446.6L381.6 447.9L382.1 448.5L382.5 449.7L382.9 449.8L383.3 453.1L383.8 457L384.2 458.3L384.6 460L385.1 460L385.5 462.5L385.9 463.4L386.4 461.4L386.8 458.3L387.2 457.9L387.7 457.6L388.1 456.8L388.5 456.6L388.9 455.9L389.4 455.7L389.8 456.5L390.2 454.8L390.7 454.9L391.1 454L391.5 455.2L392 456.6L392.4 456.9L392.8 458.3L393.3 457.7L393.7 458.3L394.1 459.4L394.6 458.3L395 457.7L395.4 457.4L395.8 456.7L396.3 455.6L396.7 456.1L397.1 455.7L397.6 456L398 454.5L398.4 454.2L398.9 454L399.3 453.3L399.7 453.2L400.2 451.3L400.6 452.2L401 450.7L401.4 449.7L401.9 448.1L402.3 448.7L402.7 446.4L403.2 446.2L403.6 445L404 442.8L404.5 442.3L404.9 439.3L405.3 436.5L405.8 434.1L406.2 431L406.6 429L407.1 424L407.5 418.6L407.9 420.3L408.3 422.1L408.8 422.9L409.2 425.5L409.6 435.9L409.9 434.5L410.2 432.4L410.6 435L410.9 434.1L411.4 433.1L411.8 432.4L412.2 433.1L412.7 434.1L413.1 432.4L413.5 432.4L413.9 431L414.4 429L414.8 425.3L415.2 423.8L415.7 421.1L416.1 420.3L416.5 419.7L417 416.9L417.4 414.4L417.8 413.4L418.3 413.5L418.7 411.7L419.1 413.9L419.6 413.4L420 411.9L420.4 410L420.8 411.3L421.3 411.7L421.7 412.5L422.1 410L422.6 411.6L423 413.4L423.4 413.8L423.9 415.2L424.3 413.2L424.7 413.4L425.2 413.1L425.6 412.6L426 413.4L426.4 411.7L426.9 413.4L427.3 413.4L427.7 413.5L428.2 415.2L428.6 416.2L429 418.6L429.6 425.5L430 424.2L430.4 423.8L430.8 422.3L431.3 420.3L431.7 421.3L432.1 422.8L432.5 423.8L432.9 423.2L433.3 422.1L433.8 422.7L434.2 423.8L434.6 423.8L435.1 423.8L435.5 424.4L435.9 424.7L436.4 424.2L436.8 423.8L437.2 423.4L437.7 422.1L438.1 422.8L438.5 420.3L438.9 420L439.4 418.6L439.8 417.4L440.2 416L440.7 414.2L441.1 415.2L441.5 415.1L442 414.3L442.4 413.1L442.8 415.2L443.3 416.1L443.7 419.5L444.1 419.3L444.6 417.8L445 417.9L445.4 416.9L445.8 417.2L446.3 416.3L446.7 417.9L447.1 418.6L447.6 417.8L448 418.7L448.4 419.9L448.9 417.8L449.3 417.7L449.7 416.7L450.2 416.1L450.6 416.9L451 416.8L451.4 416.7L451.9 415.9L452.3 416.9L452.7 416.8L453.2 415.5L453.6 417.2L454 416L454.5 416.9L454.9 417L455.3 415.6L455.8 416L456.2 416.3L456.6 415.5L457.1 415.1L457.5 415.2L457.9 414.2L458.3 412.8L458.8 412L459.2 412.6L459.6 412L460.1 410L460.5 410.3L460.9 410.9L461.4 411.3L461.8 412.1L462.2 410L462.7 411.7L463.1 410.8L463.5 411.4L463.9 411.4L464.4 410.9L464.8 410.8L465.2 412.2L465.7 411.7L466.1 411.7L466.5 411.1L467 412.6L467.4 411.8L467.8 412.6L468.3 412L468.7 410L469.1 408.7L469.6 406.6L470 402.4L470.4 401.4L470.8 399.9L471.3 396.2L471.7 395.9L472.1 394.5L472.6 394.6L473.1 392.5L473.5 389.8L473.9 387.8L474.3 384.4L474.7 381.5L475.1 378.2L475.5 376.8L476 376L476.3 380.9L476.6 381.5L477.1 394L477.5 387.8L477.8 386.1L478.2 384.6L478.6 386.2L479 386L479.4 383.1L479.8 383.3L480.2 384.6L480.6 385.6L481 386.2L481.4 384.4L481.8 385.4L482.1 385.5L482.5 386.2L482.9 387.4L483.3 387L483.7 385.1L484.1 385.4L484.5 386.7L484.9 386.2L485.3 386.1L485.7 385.4L486.1 384.9L486.5 386.2L486.8 385.8L487.2 386.2L487.6 386.2L488 387L488.4 387.3L488.8 387.8L489.2 393.4L489.6 400L490.1 394L490.4 392.9L490.7 393.3L491.2 393.4L491.6 394L492.2 393.6L492.7 394.8L493.1 393.3L493.5 394L493.9 394.4L494.3 394.8L494.7 395.2L495.1 394L495.5 393.1L495.9 394.8L496.3 394.4L496.6 394L497 393.1L497.4 393.3L497.8 392L498.2 392.5L498.6 392.4L499 390.9L499.4 390.1L499.8 390.1L500.2 391L500.6 389.3L501 389.1L501.3 390.1L501.7 390.8L502.1 390.9L502.5 391.1L502.9 391.7L503.4 390.8L504 391.7L504.5 390.9L505 390.7L505.5 391.2L506.1 390.6L506.6 390.2L507.1 389L507.6 389.7L508.1 389.5L508.7 389.5L509.2 389.3L509.7 389.9L510.2 388L510.8 388.6L511.1 388.1L511.5 387.8L511.9 387.1L512.3 389.3L512.7 389.1L513.1 387.8L513.5 386.5L513.9 387L514.3 384.7L514.7 385.4L515.1 384.2L515.5 383.1L515.8 383.2L516.2 381.5L516.6 379.4L517 379.9L517.5 379.3L518.1 379.8L518.6 380.7L519 379L519.4 379.2L519.8 379.9L520.2 379.9L520.5 378.9L520.9 379.2L521.3 378.1L521.7 378.4L522.1 378.5L522.5 377.6L522.9 377.3L523.3 378.4L523.7 378L524.1 376.8L524.5 376.4L524.9 377.6L525.3 375.8L525.6 376L526 374.1L526.4 375.2L526.8 377.2L527.2 376L527.6 375L528 374.5L528.4 374.7L528.8 374.5L529.2 374L529.6 373.7L530 373.4L530.3 372.9L530.7 372.5L531.1 372.1L531.5 372.2L531.9 369L532.3 366.5L532.7 365.8L533.1 362.9L533.5 362.7L533.9 360.3L534.3 359.6L534.7 356.1L535 354.9L535.4 353.9L535.8 351.7L536.3 350.2L536.8 354.9L537.1 358.7L537.4 361.1L537.8 364.2L538.2 369L538.7 372.1L539 367.4L539.4 364.6L539.7 364.3L540.1 364.7L540.5 365.8L540.9 366.2L541.3 364.3L541.7 361.1L542.1 362.7L542.5 361.6L542.9 359.6L543.3 358.6L543.7 359.6L544.1 359.7L544.5 358L544.8 356.3L545.2 356.4L545.6 357L546 358L546.4 355.1L546.8 354.9L547.2 354.8L547.6 356.4L548 356.4L548.4 354.1L548.8 354L549.2 352.5L549.5 351L549.9 350.2L550.3 347.8L550.7 347L551.1 344.6L551.5 345.5L551.9 344.7L552.3 344.7L552.7 343.9L553.1 343.1L553.5 342.2L553.9 341.5L554.2 341.8L554.6 342.3L555 342.9L555.4 345.5L555.8 347L556.2 348.6L556.5 342.3L557 347L557.4 350.9L557.8 354.9L558.2 358.3L558.6 359.6L558.9 362.7L559.3 362.7L559.7 361.8L560.1 361.1L560.6 354.9L560.9 351.9L561.2 350.2L561.6 349.6L562.1 348.6L562.5 348.6L562.9 347.2L563.3 347L563.7 346.6L564 346.2L564.4 345L564.8 345.5L565.2 346.8L565.6 347L566 346.1L566.4 345.5L566.8 345.3L567.2 344.7L567.6 344.1L568 343.9L568.4 341.7L568.7 340.8L569.1 337.6L569.5 335.9L569.9 333.8L570.5 331.6L571 330.7L571.6 328.8L572.1 326.6L572.7 323.3L573.2 322.2L573.6 321.5L574 320.6L574.5 317.8L574.9 317.3L575.3 315.1L575.7 314L576.1 312.1L576.5 310.7L576.9 307.3L577.3 307.4L577.7 305.9L578.2 304.1L578.6 302.6L579 300.9L579.4 299.9L579.8 299.2L580.2 297.2L580.6 295.9L581 294L581.4 292.6L581.9 290.2L582.3 289.3L582.7 287.5L583.1 286.1L583.5 284.8L583.9 284.4L584.3 287L584.7 289.3L585.1 289.1L585.6 291L586 292L586.4 292.6L586.8 293.6L587.2 294.3L587.6 295L588 295.9L588.4 295.5L588.8 295.9L589.3 295.6L589.7 294.3L590.1 293.7L590.5 295.9L590.9 297.1L591.3 297.6L591.7 297L592.1 295.9L592.5 295.3L593 294.3L593.4 297.1L593.8 299.2L594.3 310.7L594.6 306.1L594.9 302.5L595.4 295.9L595.8 292.4L596.2 289.3L596.7 289.1L597.1 287.7L597.5 289.7L597.9 291L598.3 290.3L598.7 289.3L599.1 286.4L599.5 286.1L600 284L600.4 281.1L600.8 279.6L601.2 276.2L601.6 273.8L602 269.6L602.4 267.3L602.8 264.7L603.2 260.9L603.7 259.7L604.1 259.7L604.5 258.1L604.9 259.6L605.3 261.4L605.7 258.4L606.1 259.7L606.5 258.4L606.9 256.4L607.4 253.5L607.8 253.2L608.2 251.2L608.6 251.5L609 252.6L609.4 254.8L609.8 256.7L610.2 256.4L610.6 257L611.1 258.1L611.5 260.8L611.9 263L612.3 271.9L612.7 277.8L613.1 274.2L613.5 268L613.9 266.2L614.3 264.7L614.8 265.3L615.2 266.3L615.6 263.6L616 263L616.4 261.6L616.8 261.4L617.2 260.9L617.6 259.7L618 259.3L618.5 258.1L618.9 257.4L619.3 256.4L619.7 255.6L620.1 253.2L620.5 249.2L620.9 246.6L621.3 244.9L621.7 243.3L622.2 243.1L622.6 241.6L622.2 240.7L621.9 238.8L622.3 239.9L622.8 239.6L623.2 239.6L623.6 238.1L624 237.1L624.5 239.1L624.9 240.4L625.3 237.9L625.7 237.1L626.1 232.4L626.5 230.5L626.9 228.6L627.3 225.6L627.7 223.9L628.2 222.3L628.6 223.4L629 223.9L629.4 225.8L629.8 230.5L630.3 237.1L630.6 231.9L631 227.2L631.4 224.3L631.8 222.3L632.3 219.1L632.8 217.4L633.1 214.4L633.5 214.9L633.9 214.1L634.4 209.1L634.7 206.6L635.1 202.6L635.6 198.8L636.1 194.3L636.4 189.7L636.7 186.1L637 182L637.4 177.9L637.7 169.7L638 166.4L638.4 166.2L638.8 164.7L639.3 161.6L639.7 163.1L640.1 160.5L640.5 158.2L641 161.4L641.3 166.4L641.8 169.7L642.3 173L642.6 174.2L643 174.6L643.5 177.9L643.8 177.7L644.1 176.2L644.6 184.5L645.1 177.9L645.4 176.9L645.8 173L646.2 169.7L646.7 166.4L647.2 169.7L647.6 173.1L647.9 174.6L648.3 176.5L648.7 177.9L649.1 180.6L649.5 182.8L650 186L650.4 187.8L650.8 188.9L651.2 191.1L651.6 192.7L652 194.3L652.4 194.3L652.8 192.7L653.2 195.2L653.7 194.3L654.1 196.7L654.5 199.3L654.9 203.3L655.3 207.5L655.8 225.6L656.1 221.6L656.4 217.4L656.9 216.9L657.4 214.1L657.8 212.4L658.3 210.8L658.7 207.9L659.1 202.6L659.5 197.6L659.9 194.3L660.3 195L660.7 196L661.1 197.5L661.5 199.3L662 198.3L662.4 196L662.8 196.1L663.2 194.3L663.6 192.2L664 192.7L664.4 195.2L664.8 199.3L665.2 201.2L665.7 202.6L666.1 203.7L666.5 205.9L666.9 206.2L667.3 209.1L667.7 212.5L668.1 214.1L668.5 216.1L668.9 217.4L669.4 214.5L669.8 210.8L670.2 212L670.6 214.1L671 218.2L671.4 220.7L671.8 222.1L672.2 223.9L672.6 226.5L673.1 227.2L673.5 227.3L673.9 228.9L674.3 226.5L674.7 225.6L675.1 224.1L675.5 222.3L675.9 219.2L676.3 217.4L676.8 216.3L677.2 214.1L677.6 213.5L678 212.4L678.4 210L678.8 209.1L679.2 208.4L679.6 207.5L680 206.4L680.5 205.9L680.9 207L681.3 206.7L681.7 204.9L682.1 204.2L682.5 204.7L682.9 205.9L683.3 208.5L683.8 209.1L684.2 211.9L684.6 210.8L685 213.3L685.4 212.4L685.8 213.3L686.2 214.1L686.6 215.1L687 215.7L687.5 217.8L687.9 217.4L688.3 218.9L688.7 220.7L689.1 220.7L689.5 222.3L689.9 223.2L690.3 223.9L690.7 222.7L691.2 220.7L691.6 220.8L692 222.3L692.4 222.5L692.8 225.6L693.2 226L693.6 228.9L694 230.3L694.4 230.5L694.9 230.7L695.3 232.2L695.7 231.2L696.1 230.5L696.5 232.4L696.9 233.8L697.3 235.2L697.7 235.5L698.1 235.6L698.6 236.3L699 235.5L699.4 233.8L699.8 231.4L700.2 230.5L700.6 229.4L701 228.9L701.4 228.8L701.8 230.5L702.3 232.3L702.7 232.2L703.1 230.5L703.5 228.9L703.9 226.6L704.3 225.6L704.7 223.6L705.1 222.3L705.5 220.5L706 219L706.4 218L706.8 215.7L707.2 214L707.6 214.9L708 215.3L708.4 217.4L708.8 218.7L709.2 220.7L709.7 225.3L710.1 225.6L710.5 228.9L710.9 230.5L711.3 232.1L711.7 233.8L712.1 234L712.5 233L712.9 234.3L713.4 232.2L713.8 232L714.2 230.9L714.7 230.2L715.2 228.9L715.6 228.3L716.1 230.2L716.6 230.2L717 228.7L717.5 226.4L718 226L718.5 224.5L718.9 223.1L719.4 222.6L719.9 229L720.3 232L720.8 234.4L721.3 233.9L721.7 233.5L722.2 232L722.7 231.7L723.2 230.2L723.6 228.2L724.1 230.2L724.6 229.3L725 229.2L725.5 229.8L726 230.3L726.4 229.6L726.9 230.2L727.4 228.7L727.9 230.5L728.3 229.5L728.8 230.2L729.3 230.1L729.7 230.1L730.2 230.6L730.7 231.1L731.1 229.4L731.6 232.6L732.1 232L732.6 232L733 232.7L733.5 233.2L734 231.3L734.4 231.1L734.9 229.8L735.4 230.8L735.8 230.8L736.3 232L736.8 231.4L737.3 231.6L737.7 229.6L738.2 231.1L738.7 231.6L739.1 230.3L739.6 232L740.1 232L740.5 234.8L741 237.7L741.5 239.3L742 241.4L742.4 247L742.9 252.7L743.4 256L743.8 260.2L744.3 260.6L744.8 262.1L745.2 261.6L745.7 264L746.2 265.8L746.7 267.7L747.1 270.3L747.6 269.6L748.1 273.2L748.5 273.4L749 276.4L749.5 277.1L749.9 276.8L750.4 275.3L750.9 270.9L751.4 267.7L751.8 267.1L752.3 264L752.8 264.9L753.2 265.9L753.7 264.4L754.2 263L754.6 265.1L755.1 267.7L755.6 265.9L756.1 264L756.5 264.6L757 265.9L757.5 266.7L757.9 267.7L758.4 268.7L758.9 271.5L759.3 270.2L759.8 269.6L760.3 272.5L760.8 271.5L761.2 271.7L761.7 271.8L762.2 272.7L762.6 272.4L763.1 273.3L763.6 272L764 273L764.5 273.4L765 274.4L765.5 274.1L765.9 274.2L766.4 274.3L766.9 274.7L767.3 272.4L767.8 270.5L768.3 269.6L768.7 268.8L769.2 267.7L769.7 265.4L770.2 264L770.6 264.3L771.1 262.1L771.6 262.3L772 265.9L772.5 266.2L773 267.7L773.4 266.8L773.9 266.8L774.4 267.1L774.8 266.8L775.3 267.3L775.8 265.9L776.3 264.3L776.7 266L777.2 264.9L777.7 264.9L778.1 264.1L778.6 264.9L779.1 263.4L779.5 264L780 262L780.5 263.2L781 262L781.4 263L781.9 260.1L782.4 258.3L782.8 254.9L783.3 250.8L783.8 249.2L784.2 247.1L784.7 247.5L785.2 245.2L785.7 246L786.1 247.1L786.6 245.3L787.1 246.1L787.5 245L788 245.2L788.5 243L788.9 242.4L789.4 241.8L789.9 243.3L790.4 244.1L790.8 244.2L791.3 242.3L791.8 241.4L792.2 238.8L792.7 239.5L793.2 237.3L793.6 233.9L794.1 230.1L794.6 226.4L795.1 222.9L795.5 218.9L796 218L796.5 217L796.9 216.6L797.4 215.1L797.9 214.2L798.3 213.2L798.8 213.3L799.3 211.4L799.8 212.7L800.2 213.2L800.7 215.4L801.2 217L801.6 218.3L802.1 218.9L802.6 218.1L803 219.8L803.5 217.8L804 216.1L804.5 213.5L804.9 211.4L805.4 208.7L805.9 205.7L806.3 202.7L806.8 202L807.3 196.8L807.7 188.8L808.1 185L808.4 187.9L808.7 190.7L809.1 192.6L809.5 192.5L809.9 194.5L810.3 190.2L810.6 188.9L811.1 189.6L811.6 190.8L811.9 188.8L812.1 187L812.5 189.2L812.9 192.6L813.3 195.5L813.6 198.3L814 200.5L814.4 203.9L814.9 202.5L815.3 200.2L815.8 201.4L816.3 203.9L816.7 204.3L817.2 204.8L817.7 205.2L818.2 203.9L818.6 203.3L819.1 198.3L819.6 194.6L820 192.6L820.5 191.3L821 190.8L821.4 191.9L821.9 194.5L822.4 196.1L822.9 196.4L823.3 197.3L823.8 200.2L824.3 197.9L824.7 196.4L825.2 197.3L825.7 198.3L826.1 198.4L826.6 200.2L827.1 201.2L827.6 203.9L828 200.7L828.5 198.3L829 197.4L829.4 200.2L829.9 198.5L830.4 199.2L830.8 199.3L831.3 200.2L831.8 200.3L832.3 200L832.7 198.6L833.2 200.2L833.7 200.7L834.1 202L834.6 207.4L835.1 211.4L835.5 213.8L836 215.2L836.5 215.6L837 216.1L837.4 214.4L837.9 214.2L838.4 215.3L838.8 215.2L839.3 213.8L839.8 213.3L840.2 212.8L840.7 214.2L841.2 214L841.7 215.2L842.1 217.4L842.6 217.1L843.1 219.1L843.5 220.8L844 217.1L844.5 211.4L844.9 208.2L845.4 205.8L845.9 207.1L846.4 206.7L846.8 205.7L847.3 205.8L847.8 206.6L848.2 207.7L848.7 210.7L849.2 209.5L849.6 211.1L850.1 211.4L850.6 212.4L851.1 214.2L851.5 215.6L852 217.1L852.5 219.2L852.9 220.8L853.4 223.7L853.9 224.6L854.3 223.2L854.8 222.7L855.3 220.3L855.8 220.8L856.2 221.5L856.7 222.7L857.2 222.2L857.6 221.8L858.1 222.3L858.6 222.7L859 224.8L859.5 224.6L860 227.2L860.5 229.3L860.9 227.6L861.4 224.6L861.9 222.7L862.3 222.7L862.8 223.4L863.3 222.7L863.7 224L864.2 221.8L864.7 223.8L865.2 224.6L865.6 222.9L866.1 220.8L866.6 219.1L867 217.1L867.5 217.6L868 215.2L868.4 213.5L868.9 213.3L869.4 211.8L869.8 210.5L870.3 211.3L870.8 211.4L871.3 211.1L871.7 209.5L872.2 210.1L872.7 211.4L873.1 209.8L873.6 207.7L874.1 206.5L874.5 205.8L875 205L875.5 203.9L876 202.9L876.4 202L876.9 200.6L877.4 201.1L877.8 200.6L878.3 200.2L878.8 201.4L879.2 201.1L879.7 200.7L880.2 202L880.7 203.2L881.1 204.8L881.6 206.8L882.1 207.7L882.5 208.2L883 210.5L883.5 210.2L883.9 209.5L884.4 209.6L884.9 211.4L885.4 215.2L885.8 217.1L886.1 225.6L886.4 230.2L886.7 242.3L887 250.9L887.3 247.9L887.7 245.3L888.2 243.1L888.6 239.6L889.1 236L889.6 232.1L890.1 231.3L890.5 230.2L891 233.4L891.5 234L891.9 230L892.4 228.3L892.9 228.3L893.3 226.5L893.8 225.5L894.3 224.6L894.8 226.7L895.2 226.5L895.7 226.2L896.2 225.5L896.6 225.9L897.1 227.4L897.6 226.2L898 224.6L898.5 224.3L899 222.7L899.5 220.9L899.9 218.9L900.4 217.5L900.9 215.2L901.3 211.9L901.8 209.5L902.3 205.9L902.7 205.8L903.2 204.7L903.7 202L904.1 205.4L904.6 207.7L905 210.4L905.4 209.6L905.8 209.6L906.3 207.9L906.7 206.6L907.1 205.6L907.5 205.4L907.9 206L908.4 208L908.8 207.9L909.2 205.4L909.6 206.4L910 204.1L910.4 202.7L910.9 201.5L911.3 201.6L911.7 203.5L912.1 203.2L912.5 204.1L912.9 203.3L913.4 204.3L913.8 204.9L914.2 205.8L914.6 206.2L915 205.4L915.5 204.6L915.9 204.9L916.3 204.1L916.7 205.1L917.1 204.4L917.5 205.4L918 206.1L918.4 206.2L918.8 206.6L919.2 206.6L919.6 207L920.1 207.9L920.5 207.9L920.9 207.9L921.3 207.9L921.7 207L922.1 206.7L922.6 206.6L923 208L923.4 207.6L923.8 207.9L924.2 208.6L924.6 208.9L925.1 207.9L925.5 207.5L925.9 208.1L926.3 205.4L926.7 203L927.2 202.7L927.6 200.4L928 197.6L928.4 196.9L928.8 192.8L929.2 193.4L929.7 189.5L930.1 190.3L930.5 189.1L930.9 190.1L931.3 189.1L931.7 190.2L932.2 190.5L932.6 190.3L933 190.3L933.4 190.7L933.8 190.3L934.3 190.5L934.7 189.4L935.1 189.1L935.5 190.4L935.9 188L936.3 190.3L936.8 191.3L937.2 190.3L937.6 191.6L938 192L938.4 190.5L938.8 190.3L939.2 193.3L939.6 197.8L940.1 199.4L940.6 200.4L941.1 199.2L941.6 198.7L942.1 199.1L942.6 196.5L943.1 196.6L943.6 197L944.1 197.8L944.6 197.8L945.1 198.4L945.5 197.1L945.9 197.8L946.4 196.6L946.8 197L947.2 197.3L947.6 197.8L948 197.9L948.5 197.9L948.9 196.6L949.3 195.9L949.7 195.5L950.1 195.3L950.5 194.4L951 193.7L951.4 192.8L951.8 191.2L952.2 192L952.6 190.3L953 188.3L953.5 187.4L953.9 185.3L954.3 182.9L954.7 182.3L955.1 180.3L955.6 180.6L956 179.9L956.4 180.3L956.8 181.2L957.2 178.9L957.6 177.8L958.1 177.6L958.5 175.3L958.9 172.8L959.3 171.4L959.7 170.8L960.2 170.3L960.6 169L961 167L961.4 165.3L961.8 163.6L962.2 161.7L962.7 160.3L963.1 157.9L963.5 158.4L963.9 157.7L964.3 156.7L964.7 159.7L965.2 160.3L965.6 158.4L966 157.1L966.4 156.5L966.8 156.7L967.3 157.6L967.7 157.7L968.1 157.4L968.5 157.9L968.9 160.3L969.3 157.7L969.8 155.2L970.2 155.2L970.6 151.9L971 151.6L971.4 147.7L971.8 145.2L972.3 144.9L972.7 142.7L973.1 139L973.5 137.9L973.9 135.2L974.4 131.6L974.8 128.5L975.2 125.2L975.6 123.1L976 121.6L976.4 117.6L976.8 112.8L977.2 107.6L977.7 109L978.2 110.1L978.7 111.2L979.2 113.9L979.7 116.3L980.2 117.6L980.6 119.1L981 121.7L981.5 122.7L981.9 123.9L982.3 126.6L982.7 126.4L983.1 122.6L983.5 122L984 120.2L984.4 118.4L984.8 114.8L985.2 112.6L985.6 109.5L986 107.4L986.5 105.1L986.9 101.4L987.3 100.2L987.7 97.6L988.1 98L988.6 95.2L989 92.6L989.3 89.1L989.7 87.6L990.2 85.6L990.7 85.1L991.1 87.2L991.5 90.1L991.9 94.7L992.2 97.6L992.7 95.6L993.2 95.1L993.7 92.6L994.2 91.3L994.7 89.6L995.2 86.3L995.7 85.8L996.1 83.5L996.5 82.6L996.9 81.2L997.3 80.4L997.7 81.3L998.2 81.5L998.6 81.1L999 83.8L999.5 87.4L1000 89.7L1000.3 89.7L1000.6 90.9L1000.9 88.9L1001.2 86.2L1001.5 86.6L1001.8 83.8L1002 84.2L1002.3 82.6L1002.6 81.9L1002.9 83.2L1003.2 83.7L1003.5 82.6L1003.8 84.2L1004.1 83.8L1004.4 82.6L1004.7 82.6L1005 80.6L1005.3 80.3L1005.6 79L1005.9 77.9L1006.2 76L1006.5 76.8L1006.7 79.2L1007 79.1L1007.3 78.2L1007.6 81.5L1007.9 82.3L1008.2 85L1008.5 86.5L1008.8 88.5L1009.1 90.7L1009.4 93.2L1009.7 92.2L1010 90.9L1010.3 89.3L1010.6 87.3L1010.9 86.6L1011.2 86.2L1011.4 86.5L1011.7 85L1012 84.3L1012.3 87.3L1012.6 85.6L1012.9 83.8L1013.2 82.6L1013.5 82.6L1013.8 83.3L1014.1 83.8L1014.4 86.3L1014.7 88.5L1015 90.1L1015.3 93.2L1015.6 95L1015.9 97.9L1016.1 100.9L1016.4 102.6L1016.7 105.2L1017 107.3L1017.3 107.9L1017.6 109.7L1017.9 113.7L1018.2 114.4L1018.5 118.1L1018.8 117.9L1019.1 115.5L1019.4 115.5L1019.7 114L1020 112L1020.3 113.5L1020.6 110.8L1020.8 113.3L1021.1 114.4L1021.4 113.4L1021.7 112L1022 113L1022.3 114.4L1022.6 115.7L1022.9 117.9L1023.2 115.9L1023.5 114.4L1023.8 112.7L1024.1 112L1024.4 110.9L1024.7 108.5L1025 109.3L1025.3 110.8L1025.5 112.2L1025.8 114.4L1026.1 114.5L1026.4 116.7L1026.7 117.8L1027 119.1L1027.3 120.1L1027.6 122.6L1027.9 121.3L1028.2 120.2L1028.5 119.9L1028.8 117.9L1029.1 117.6L1029.4 116.7L1029.7 117.7L1030 117.9L1030.2 118.8L1030.5 119.1L1030.8 118.2L1031.1 117.3L1031.4 118.1L1031.7 119.1L1032 119.4L1032.3 120.2L1032.6 120.3L1032.9 119.1L1033.2 118.7L1033.5 120.2L1033.8 122L1034.1 121.4L1034.4 122.6L1034.7 123.8L1034.9 124.3L1035.2 126.1L1035.5 124.5L1035.8 123.8L1036.1 120.2L1036.4 117.9L1036.7 115.7L1037 113.2L1037.3 110.2L1037.6 108.5L1037.9 108L1038.2 105.5L1038.5 105.2L1038.8 106.1L1039.1 106L1039.4 109.7L1039.6 107.3L1039.9 106.1L1040.2 102.7L1040.5 102.6L1040.8 101.4L1041.1 100.3L1041.4 100.6L1041.7 99.1L1042 99L1042.3 97.9L1042.6 97.9L1042.9 100.3L1043.2 98.7L1043.5 98.5L1043.8 99.1L1044.1 96.7L1044.3 96.4L1044.6 95.6L1044.9 95L1045.2 94.4L1045.5 95.6L1045.8 95L1046.1 97.3L1046.4 95.6L1046.7 96.1L1047 94.4L1047.3 95.4L1047.6 96.1L1047.9 96.1L1048.2 95.6L1048.5 95.8L1048.8 95L1049 93.6L1049.3 93.2L1049.6 90.8L1049.9 90.3L1050.2 91.8L1050.5 93.2L1050.8 94.7L1051.1 97.9L1051.4 99L1051.7 100.3L1052 99.2L1052.3 97.9L1052.6 99L1052.9 96.1L1053.2 95.7L1053.5 96.7L1053.7 98.4L1054 100.3L1054.3 103.1L1054.6 106.1L1054.9 105.3L1055.2 103.8L1055.5 104.1L1055.8 102.6L1056.1 103.4L1056.4 105L1056.7 103.7L1057 103.8L1057.3 99.4L1057.6 97.9L1057.9 94.8L1058.2 93.2L1058.4 91.9L1058.7 89.7L1059 88.5L1059.3 87.3L1059.6 85.9L1059.9 86.2L1060.2 85.2L1060.5 85L1060.8 83.8L1061.1 82.6L1061.4 81.3L1061.7 79.1L1062 78L1062.3 77.9L1062.6 76.5L1062.9 75.6L1063.1 74.6L1063.4 76.8L1063.7 76.9L1064 79.1L1064.3 81.1L1064.6 80.3L1064.9 79L1065.2 81.5L1065.5 80L1065.8 79.1L1066.1 79L1066.4 78.5L1066.7 77.9L1067 77.9L1067.3 77.8L1067.6 79.1L1067.8 77.9L1068.1 76.8L1068.4 75.6L1068.7 74.4L1069 73.7L1069.3 73.2L1069.6 72.2L1069.9 74.4L1070.2 74.9L1070.5 75.6L1070.8 75.4L1071.1 76.8L1071.4 77.5L1071.7 79.1L1072 80.5L1072.3 81.5L1072.5 82.6L1072.8 82.6L1073.1 84L1073.4 83.8L1073.7 82.8L1074 82.6L1074.3 84L1074.6 83.8L1074.9 85.4L1075.2 85L1075.5 86.5L1075.8 86.2L1076.1 87.9L1076.4 87.3L1076.7 88.4L1077 89.7L1077.3 91.3L1077.5 93.2L1077.8 94.5L1078.1 94.4L1078.4 93.5L1078.7 95L1079 95.4L1079.3 95.6L1079.6 95.8L1079.9 96.9L1080.3 97L1080.6 97.6L1081 95.4L1081.3 96.2L1081.7 94.4L1082.1 94.1L1082.4 93.4L1082.8 92.7L1083.1 93.8L1083.5 93.4L1083.8 95.3L1084.2 95.5L1084.5 96.2L1084.9 96.9L1085.2 97.5L1085.6 98.3L1085.9 98.3L1086.3 99.7L1086.6 102.2L1087 104L1087.3 104.5L1087.7 105.4L1088 105.2L1088.4 104L1088.8 104.8L1089.1 102.6L1089.5 103.6L1089.8 104.7L1090.2 104.5L1090.5 106.8L1090.9 110.3L1091.2 115.3L1091.6 116.7L1091.9 114L1092.2 113.9L1092.6 112.1L1093.1 112.4L1093.5 113.9L1094 113.1L1094.4 112.3L1094.7 111L1095.1 107.6L1095.5 106.8L1095.8 105.6L1096.2 103.3L1096.5 103.6L1096.9 101.9L1097.2 101.9L1097.6 102.6L1097.9 102.7L1098.3 104L1098.6 103L1099 102.6L1099.3 104.9L1099.7 106.8L1100 109.5L1100.4 111L1100.7 112.7L1101.1 112.4L1101.4 112.1L1101.8 109.6L1102.2 107.8L1102.5 104L1102.9 103.7L1103.2 101.2L1103.6 103.8L1103.9 105.4L1104.3 106.2L1104.6 109.6L1105 108.1L1105.3 106.8L1105.7 107.8L1106 108.2L1106.4 109.6L1106.7 111.7L1107.1 111.5L1107.4 109.6L1107.8 108.3L1108.1 107.5L1108.5 105.7L1108.9 105.4L1109.2 105.9L1109.6 104L1109.9 103.1L1110.3 101.2L1110.6 99.9L1111 98.3L1111.3 98.4L1111.7 96.9L1112 98.2L1112.4 97.6L1112.7 98.6L1113.1 99L1113.4 97.3L1113.8 99.7L1114.1 100.6L1114.5 102.6L1114.8 103.6L1115.2 105.4L1115.6 106L1115.9 108.2L1116.3 108L1116.6 107.5L1117 108.2L1117.3 106.8L1117.7 106.7L1118 107.5L1118.4 106.2L1118.7 106.8L1119.1 109.2L1119.4 108.2L1119.8 108.5L1120.1 109.6L1120.5 108.9L1120.8 110.3L1121.2 110.2L1121.5 109.6L1121.9 110.7L1122.2 111L1122.6 111.8L1123 113.9L1123.3 117.3L1123.7 119.5L1124 122.6L1124.4 126.5L1124.7 127.2L1125.1 129.4L1125.4 128.8L1125.8 128L1126.1 129L1126.5 128.7L1126.8 127.8L1127.2 128L1127.5 128.9L1127.9 129.4L1128.2 129.6L1128.6 130.1L1128.9 131.8L1129.3 128.7L1129.7 127L1130 126.5L1130.4 127L1130.7 125.1L1131.1 124.7L1131.4 124.4L1131.8 125L1132.1 125.8L1132.5 127.5L1132.8 128L1133.2 131.5L1133.5 133.6L1133.9 139.6L1134.2 143.5L1134.6 147.3L1134.9 150.5L1135.3 153.9L1135.6 158.3L1136 156.8L1136.4 156.2L1136.7 155.2L1137.1 153.3L1137.4 152.4L1137.8 150.5L1138.1 152.4L1138.5 151.9L1138.8 153.7L1139.2 154.8L1139.5 157.1L1139.9 157.6L1140.2 156.7L1140.6 153.3L1140.9 152.1L1141.3 150.5L1141.6 150.7L1142 153.3L1142.3 153.8L1142.7 156.2L1143.1 152.8L1143.4 151.9L1143.8 151.9L1144.1 149.1L1144.5 147L1144.8 146.3L1145.2 146.6L1145.5 144.9L1145.9 146.8L1146.2 147.7L1146.6 148.5L1146.9 146.3L1147.3 146.4L1147.6 144.9L1148 144.4L1148.3 144.2L1148.7 144.4L1149 144.9L1149.4 144.2L1149.8 143.5L1150.1 144L1150.5 144.2L1150.8 143.4L1151.2 143.5L1151.5 142.7L1151.9 142.1L1152.2 143.1L1152.6 141.4L1152.9 140.3L1153.3 142.1L1153.6 143L1154 143.5L1154.3 144.8L1154.7 147.7L1155 149.3L1155.4 150.5L1155.7 150.5L1156.1 149.1L1156.5 151.2L1156.8 153.3L1157.2 154.8" fill="none" stroke="#000" stroke-width="1.8" stroke-linejoin="round"/>
<line x1="99.5" x2="1212" y1="513.9" y2="513.9" stroke="#f60a5a" stroke-width="1.4" stroke-dasharray="3.75 3.75"/>
<circle cx="323.8" cy="488.0" r="10.4" fill="#f60a5a" fill-opacity="0.18" stroke="#f60a5a" stroke-width="1.8" stroke-dasharray="4.2 3.0"/><circle cx="752.0" cy="536.3" r="10.4" fill="#f60a5a" fill-opacity="0.18" stroke="#f60a5a" stroke-width="1.8" stroke-dasharray="4.2 3.0"/><circle cx="1140.1" cy="503.5" r="10.4" fill="#f60a5a" fill-opacity="0.18" stroke="#f60a5a" stroke-width="1.8" stroke-dasharray="4.2 3.0"/>
<rect x="108" y="57.2" width="150" height="196.3" rx="3" ry="3" fill="#ffffff" fill-opacity="0.82" stroke="#d4d4d4" stroke-width="1.1"/><rect x="113" y="63.25" width="30" height="10.3" fill="#5b9ec9"/><text x="154.2" y="73.50" class="lg" textLength="60.5" lengthAdjust="spacingAndGlyphs">&gt; 1000%</text><rect x="113" y="84.61" width="30" height="10.3" fill="#70b0c2"/><text x="154.2" y="94.86" class="lg" textLength="96.3" lengthAdjust="spacingAndGlyphs">500 to 1000%</text><rect x="113" y="105.97" width="30" height="10.3" fill="#86cab5"/><text x="154.2" y="116.22" class="lg" textLength="86.8" lengthAdjust="spacingAndGlyphs">100 to 500%</text><rect x="113" y="127.33" width="30" height="10.3" fill="#9dd6b0"/><text x="154.2" y="137.58" class="lg" textLength="78.1" lengthAdjust="spacingAndGlyphs">50 to 100%</text><rect x="113" y="148.69" width="30" height="10.3" fill="#b8e2ab"/><text x="154.2" y="158.94" class="lg" textLength="62.1" lengthAdjust="spacingAndGlyphs">0 to 50%</text><rect x="113" y="170.05" width="30" height="10.3" fill="#fbbb7e"/><text x="154.2" y="180.30" class="lg" textLength="68.7" lengthAdjust="spacingAndGlyphs">-20 to 0%</text><rect x="113" y="191.41" width="30" height="10.3" fill="#f6876a"/><text x="154.2" y="201.66" class="lg" textLength="85.1" lengthAdjust="spacingAndGlyphs">-50 to -20%</text><rect x="113" y="212.77" width="30" height="10.3" fill="#d9606f"/><text x="154.2" y="223.02" class="lg" textLength="85.1" lengthAdjust="spacingAndGlyphs">-80 to -50%</text><rect x="113" y="234.13" width="30" height="10.3" fill="#a8305f"/><text x="154.2" y="244.38" class="lg" textLength="50.8" lengthAdjust="spacingAndGlyphs">&lt; -80%</text>
<text x="968.7" y="531.7" class="ann1" textLength="158.6" lengthAdjust="spacingAndGlyphs">Peak Wide Losses</text>
<text x="918.9" y="553" class="ann2" textLength="257.4" lengthAdjust="spacingAndGlyphs">Comparative to 2015 and 2018</text>
<text transform="translate(32.1,482.6) rotate(-90)" class="yl" textLength="350.4" lengthAdjust="spacingAndGlyphs">Profit and Loss [% Market Cap]</text>
<text x="98.2" y="622.1" class="ft" textLength="276.6" lengthAdjust="spacingAndGlyphs">Based on data from 2022-08-28</text>
<text x="1207.9" y="622.6" text-anchor="end" class="ft" textLength="336.9" lengthAdjust="spacingAndGlyphs">© 2022 Glassnode. All Rights Reserved.</text>
</svg></body></html>
